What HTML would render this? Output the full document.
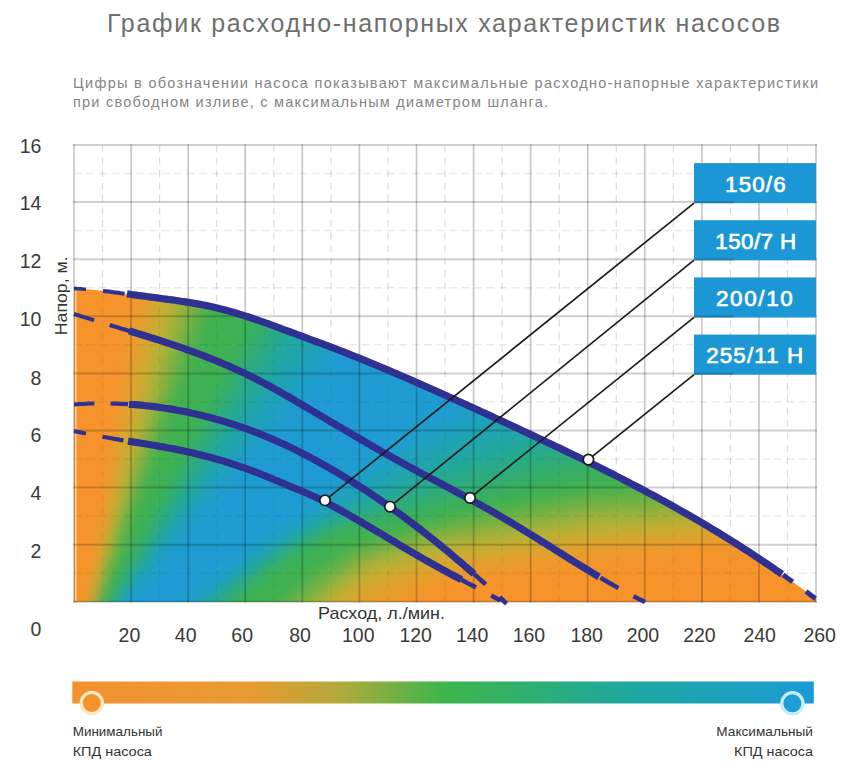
<!DOCTYPE html>
<html><head><meta charset="utf-8"><style>
html,body{margin:0;padding:0;background:#fff;}
body{width:861px;height:768px;overflow:hidden;position:relative;font-family:"Liberation Sans",sans-serif;}
svg{position:absolute;left:0;top:0;}
</style></head><body>
<svg width="861" height="768" viewBox="0 0 861 768" font-family="Liberation Sans, sans-serif">
<defs><clipPath id="fc"><path d="M74 288.4L78.0 288.6L82.0 288.9L86.0 289.2L90.0 289.5L94.0 289.9L98.0 290.3L102.0 290.8L106.0 291.2L110.0 291.7L114.0 292.2L118.0 292.8L122.0 293.3L126.0 293.8L130.0 294.3L134.0 294.9L138.0 295.4L142.0 295.9L146.0 296.4L150.0 297.0L154.0 297.5L158.0 298.0L162.0 298.5L166.0 299.1L170.0 299.6L174.0 300.2L178.0 300.7L182.0 301.3L186.0 301.9L190.0 302.6L194.0 303.3L198.0 304.0L202.0 304.7L206.0 305.5L210.0 306.3L214.0 307.2L218.0 308.2L222.0 309.2L226.0 310.2L230.0 311.3L234.0 312.5L238.0 313.7L242.0 314.9L246.0 316.2L250.0 317.5L254.0 318.9L258.0 320.2L262.0 321.6L266.0 323.0L270.0 324.4L274.0 325.9L278.0 327.4L282.0 328.9L286.0 330.4L290.0 331.9L294.0 333.4L298.0 334.8L302.0 336.3L306.0 337.8L310.0 339.3L314.0 340.7L318.0 342.2L322.0 343.7L326.0 345.2L330.0 346.7L334.0 348.2L338.0 349.8L342.0 351.3L346.0 352.9L350.0 354.5L354.0 356.1L358.0 357.7L362.0 359.3L366.0 360.9L370.0 362.6L374.0 364.2L378.0 365.9L382.0 367.6L386.0 369.3L390.0 371.0L394.0 372.7L398.0 374.4L402.0 376.1L406.0 377.8L410.0 379.6L414.0 381.3L418.0 383.1L422.0 384.8L426.0 386.6L430.0 388.4L434.0 390.1L438.0 391.9L442.0 393.7L446.0 395.5L450.0 397.3L454.0 399.1L458.0 400.9L462.0 402.8L466.0 404.6L470.0 406.4L474.0 408.2L478.0 410.1L482.0 411.9L486.0 413.8L490.0 415.6L494.0 417.4L498.0 419.3L502.0 421.1L506.0 423.0L510.0 424.9L514.0 426.7L518.0 428.6L522.0 430.4L526.0 432.3L530.0 434.2L534.0 436.0L538.0 437.9L542.0 439.8L546.0 441.7L550.0 443.6L554.0 445.5L558.0 447.4L562.0 449.3L566.0 451.2L570.0 453.1L574.0 455.1L578.0 457.0L582.0 458.9L586.0 460.9L590.0 462.9L594.0 464.8L598.0 466.8L602.0 468.8L606.0 470.8L610.0 472.8L614.0 474.9L618.0 476.9L622.0 478.9L626.0 481.0L630.0 483.1L634.0 485.1L638.0 487.2L642.0 489.4L646.0 491.5L650.0 493.6L654.0 495.8L658.0 497.9L662.0 500.1L666.0 502.3L670.0 504.5L674.0 506.8L678.0 509.0L682.0 511.3L686.0 513.5L690.0 515.8L694.0 518.1L698.0 520.5L702.0 522.8L706.0 525.2L710.0 527.6L714.0 530.0L718.0 532.4L722.0 534.9L726.0 537.3L730.0 539.8L734.0 542.3L738.0 544.9L742.0 547.4L746.0 550.0L750.0 552.6L754.0 555.2L758.0 557.9L762.0 560.5L766.0 563.2L770.0 565.9L774.0 568.7L778.0 571.4L782.0 574.2L786.0 577.0L790.0 579.9L794.0 582.8L798.0 585.7L802.0 588.6L806.0 591.5L810.0 594.5L814.0 597.5L816.0 599.0L816 602L74 602Z"/></clipPath><filter id="bl" x="-5%" y="-5%" width="110%" height="110%" color-interpolation-filters="sRGB"><feGaussianBlur stdDeviation="7"/></filter></defs>
<g stroke="#000" stroke-opacity="0.14" stroke-width="1.2" stroke-dasharray="7 5.5" fill="none"><line x1="102.5" y1="145" x2="102.5" y2="602"/><line x1="159.6" y1="145" x2="159.6" y2="602"/><line x1="216.7" y1="145" x2="216.7" y2="602"/><line x1="273.8" y1="145" x2="273.8" y2="602"/><line x1="330.9" y1="145" x2="330.9" y2="602"/><line x1="387.9" y1="145" x2="387.9" y2="602"/><line x1="445.0" y1="145" x2="445.0" y2="602"/><line x1="502.1" y1="145" x2="502.1" y2="602"/><line x1="559.2" y1="145" x2="559.2" y2="602"/><line x1="616.3" y1="145" x2="616.3" y2="602"/><line x1="673.3" y1="145" x2="673.3" y2="602"/><line x1="730.4" y1="145" x2="730.4" y2="602"/><line x1="787.5" y1="145" x2="787.5" y2="602"/></g>
<g stroke="#000" stroke-opacity="0.08" stroke-width="1.5" stroke-dasharray="8 4.5" fill="none"><line x1="74" y1="573.2" x2="816" y2="573.2"/><line x1="74" y1="516.1" x2="816" y2="516.1"/><line x1="74" y1="459.0" x2="816" y2="459.0"/><line x1="74" y1="401.9" x2="816" y2="401.9"/><line x1="74" y1="344.8" x2="816" y2="344.8"/><line x1="74" y1="287.7" x2="816" y2="287.7"/><line x1="74" y1="230.6" x2="816" y2="230.6"/><line x1="74" y1="173.5" x2="816" y2="173.5"/></g>
<g clip-path="url(#fc)"><g filter="url(#bl)" shape-rendering="crispEdges"><path fill="#f6932a" d="M62 276h72v6h-72zM62 282h72v6h-72zM62 288h72v6h-72zM62 294h72v6h-72zM62 300h72v6h-72zM62 306h66v6h-66zM62 312h66v6h-66zM62 318h66v6h-66zM62 324h66v6h-66zM62 330h66v6h-66zM62 336h66v6h-66zM62 342h66v6h-66zM62 348h60v6h-60zM62 354h60v6h-60zM62 360h60v6h-60zM62 366h60v6h-60zM62 372h60v6h-60zM62 378h60v6h-60zM62 384h60v6h-60zM62 390h54v6h-54zM62 396h54v6h-54zM62 402h54v6h-54zM62 408h54v6h-54zM62 414h54v6h-54zM62 420h54v6h-54zM62 426h48v6h-48zM62 432h48v6h-48zM62 438h48v6h-48zM62 444h48v6h-48zM62 450h48v6h-48zM62 456h48v6h-48zM62 462h48v6h-48zM62 468h42v6h-42zM62 474h42v6h-42zM62 480h42v6h-42zM62 486h42v6h-42zM62 492h42v6h-42zM62 498h42v6h-42zM62 504h42v6h-42zM62 510h36v6h-36zM62 516h36v6h-36zM62 522h36v6h-36zM62 528h36v6h-36zM62 534h36v6h-36zM62 540h36v6h-36zM62 546h36v6h-36zM758 546h78v6h-78zM62 552h30v6h-30zM668 552h168v6h-168zM62 558h30v6h-30zM608 558h228v6h-228zM62 564h30v6h-30zM560 564h276v6h-276zM62 570h30v6h-30zM524 570h312v6h-312zM62 576h30v6h-30zM488 576h348v6h-348zM62 582h30v6h-30zM446 582h390v6h-390zM62 588h30v6h-30zM428 588h408v6h-408zM62 594h24v6h-24zM416 594h420v6h-420zM62 600h24v6h-24zM410 600h426v6h-426zM62 606h24v6h-24zM398 606h438v6h-438zM62 612h24v6h-24zM392 612h444v6h-444z"/><path fill="#f3962a" d="M134 276h6v6h-6zM128 306h6v6h-6zM128 312h6v6h-6zM128 318h6v6h-6zM122 348h6v6h-6zM122 354h6v6h-6zM116 390h6v6h-6zM116 396h6v6h-6zM110 432h6v6h-6zM104 474h6v6h-6zM98 516h6v6h-6zM818 540h18v6h-18zM710 546h36v6h-36zM92 552h6v6h-6zM638 552h24v6h-24zM584 558h18v6h-18zM542 564h18v6h-18zM506 570h18v6h-18zM464 576h18v6h-18zM434 582h12v6h-12zM422 588h6v6h-6zM86 594h6v6h-6zM410 594h6v6h-6zM392 606h6v6h-6zM386 612h6v6h-6z"/><path fill="#ed992d" d="M140 276h6v6h-6zM134 300h6v6h-6zM134 306h6v6h-6zM134 312h6v6h-6zM128 342h6v6h-6zM128 348h6v6h-6zM122 378h6v6h-6zM122 384h6v6h-6zM116 414h6v6h-6zM116 420h6v6h-6zM110 450h6v6h-6zM110 456h6v6h-6zM104 492h6v6h-6zM98 528h6v6h-6zM812 534h24v6h-24zM728 540h42v6h-42zM650 546h30v6h-30zM584 552h30v6h-30zM542 558h18v6h-18zM92 564h6v6h-6zM506 564h18v6h-18zM464 570h24v6h-24zM434 576h12v6h-12zM422 582h6v6h-6zM410 588h6v6h-6zM398 594h6v6h-6zM86 600h6v6h-6zM386 600h12v6h-12zM374 606h12v6h-12zM368 612h12v6h-12z"/><path fill="#e79f2d" d="M146 276h6v6h-6zM140 306h6v6h-6zM140 312h6v6h-6zM134 342h6v6h-6zM128 372h6v6h-6zM128 378h6v6h-6zM122 408h6v6h-6zM116 438h6v6h-6zM110 474h6v6h-6zM104 504h6v6h-6zM812 528h24v6h-24zM740 534h24v6h-24zM98 540h6v6h-6zM662 540h24v6h-24zM584 546h18v6h-18zM542 552h12v6h-12zM506 558h12v6h-12zM464 564h12v6h-12zM434 570h6v6h-6zM416 576h6v6h-6zM404 582h6v6h-6zM386 588h6v6h-6zM374 594h6v6h-6zM362 600h6v6h-6zM356 606h6v6h-6zM350 612h6v6h-6z"/><path fill="#dea22d" d="M152 276h6v6h-6zM146 306h6v6h-6zM140 336h6v6h-6zM134 366h6v6h-6zM128 396h6v6h-6zM122 426h6v6h-6zM116 456h6v6h-6zM110 486h6v6h-6zM818 522h18v6h-18zM752 528h12v6h-12zM680 534h18v6h-18zM602 540h18v6h-18zM554 546h6v6h-6zM512 552h12v6h-12zM470 558h12v6h-12zM434 564h6v6h-6zM404 576h6v6h-6zM386 582h6v6h-6zM368 588h6v6h-6z"/><path fill="#d5a830" d="M158 276h6v6h-6zM152 300h6v6h-6zM146 330h6v6h-6zM140 360h6v6h-6zM134 384h6v6h-6zM128 414h6v6h-6zM122 444h6v6h-6zM110 498h6v6h-6zM830 516h6v6h-6zM764 522h18v6h-18zM104 528h6v6h-6zM704 528h12v6h-12zM632 534h18v6h-18zM566 540h6v6h-6zM524 546h12v6h-12zM482 552h12v6h-12zM440 558h12v6h-12zM422 564h6v6h-6zM404 570h6v6h-6zM386 576h6v6h-6zM368 582h6v6h-6zM344 600h6v6h-6zM338 606h6v6h-6zM86 612h6v6h-6zM332 612h6v6h-6z"/><path fill="#c9ae33" d="M164 276h6v6h-6zM158 306h6v6h-6zM152 330h6v6h-6zM146 354h6v6h-6zM140 384h6v6h-6zM134 408h6v6h-6zM128 432h6v6h-6zM116 486h6v6h-6zM824 510h12v6h-12zM764 516h12v6h-12zM704 522h12v6h-12zM650 528h6v6h-6zM572 534h6v6h-6zM530 540h6v6h-6zM488 546h6v6h-6zM440 552h12v6h-12zM98 564h6v6h-6zM398 564h6v6h-6zM380 570h6v6h-6zM362 576h6v6h-6zM326 606h6v6h-6zM320 612h6v6h-6z"/><path fill="#c3b133" d="M170 276h6v6h-6zM164 300h6v6h-6zM158 324h6v6h-6zM152 348h6v6h-6zM146 372h6v6h-6zM140 396h6v6h-6zM134 420h6v6h-6zM128 444h6v6h-6zM794 510h6v6h-6zM734 516h6v6h-6zM680 522h6v6h-6zM608 528h12v6h-12zM554 534h6v6h-6zM506 540h6v6h-6zM464 546h6v6h-6zM428 552h6v6h-6zM386 564h6v6h-6zM356 576h6v6h-6zM350 582h6v6h-6z"/><path fill="#b7b136" d="M176 276h6v6h-6zM158 342h6v6h-6zM152 366h6v6h-6zM146 390h6v6h-6zM116 504h6v6h-6zM806 504h6v6h-6zM746 510h6v6h-6zM686 516h12v6h-12zM620 522h18v6h-18zM110 528h6v6h-6zM560 528h6v6h-6zM518 534h6v6h-6zM476 540h6v6h-6zM434 546h6v6h-6zM392 558h6v6h-6zM368 564h6v6h-6z"/><path fill="#a5b139" d="M182 276h6v6h-6zM170 318h6v6h-6zM164 342h6v6h-6zM152 384h6v6h-6zM122 492h6v6h-6zM812 498h12v6h-12zM752 504h6v6h-6zM692 510h6v6h-6zM620 516h18v6h-18zM560 522h6v6h-6zM518 528h6v6h-6zM482 534h6v6h-6zM440 540h6v6h-6zM398 552h6v6h-6zM374 558h6v6h-6zM344 576h6v6h-6zM92 600h6v6h-6zM308 606h6v6h-6zM302 612h6v6h-6z"/><path fill="#96b13c" d="M188 276h6v6h-6zM182 294h6v6h-6zM170 336h6v6h-6zM158 378h6v6h-6zM140 438h6v6h-6zM128 480h6v6h-6zM830 492h6v6h-6zM764 498h12v6h-12zM704 504h6v6h-6zM638 510h18v6h-18zM566 516h6v6h-6zM530 522h6v6h-6zM404 546h6v6h-6zM338 576h6v6h-6zM98 582h6v6h-6zM302 606h6v6h-6zM296 612h6v6h-6z"/><path fill="#84b142" d="M194 276h6v6h-6zM176 336h6v6h-6zM170 354h6v6h-6zM146 432h6v6h-6zM770 492h12v6h-12zM704 498h6v6h-6zM638 504h12v6h-12zM530 516h6v6h-6zM494 522h6v6h-6zM116 528h6v6h-6zM410 540h6v6h-6zM368 552h6v6h-6zM356 558h6v6h-6zM308 594h6v6h-6z"/><path fill="#75b145" d="M200 276h6v6h-6zM194 294h6v6h-6zM188 312h6v6h-6zM182 330h6v6h-6zM176 348h6v6h-6zM788 486h12v6h-12zM716 492h12v6h-12zM656 498h12v6h-12zM572 504h6v6h-6zM536 510h6v6h-6zM122 516h6v6h-6zM506 516h6v6h-6zM470 522h6v6h-6zM440 528h6v6h-6zM116 534h6v6h-6zM398 540h6v6h-6zM110 552h6v6h-6zM350 558h6v6h-6zM332 570h6v6h-6zM308 588h6v6h-6zM302 594h6v6h-6z"/><path fill="#63b148" d="M206 276h6v6h-6zM200 294h6v6h-6zM194 312h6v6h-6zM188 330h6v6h-6zM182 348h6v6h-6zM176 366h6v6h-6zM800 480h12v6h-12zM722 486h12v6h-12zM656 492h12v6h-12zM536 504h6v6h-6zM506 510h6v6h-6zM476 516h6v6h-6zM446 522h6v6h-6zM422 528h6v6h-6zM404 534h6v6h-6zM116 540h6v6h-6zM362 546h6v6h-6zM110 558h6v6h-6zM332 564h6v6h-6zM314 576h6v6h-6zM308 582h6v6h-6z"/><path fill="#54b14b" d="M212 276h6v6h-6zM206 294h6v6h-6zM182 360h6v6h-6zM176 378h6v6h-6zM152 444h6v6h-6zM824 474h6v6h-6zM740 480h12v6h-12zM668 486h12v6h-12zM572 492h6v6h-6zM542 498h6v6h-6zM122 528h6v6h-6zM410 528h6v6h-6zM392 534h6v6h-6zM344 552h6v6h-6zM308 576h6v6h-6zM92 612h6v6h-6z"/><path fill="#45b14e" d="M218 276h6v6h-6zM212 294h6v6h-6zM200 324h6v6h-6zM194 342h6v6h-6zM182 372h6v6h-6zM176 390h6v6h-6zM164 420h6v6h-6zM158 438h6v6h-6zM806 468h24v6h-24zM734 474h24v6h-24zM674 480h12v6h-12zM140 486h6v6h-6zM584 486h12v6h-12zM554 492h6v6h-6zM524 498h6v6h-6zM122 534h6v6h-6zM326 558h6v6h-6zM308 570h6v6h-6zM104 582h6v6h-6zM272 600h6v6h-6zM266 606h6v6h-6zM260 612h6v6h-6z"/><path fill="#3fb151" d="M224 276h36v6h-36zM224 282h36v6h-36zM218 288h42v6h-42zM218 294h36v6h-36zM218 300h36v6h-36zM212 306h36v6h-36zM212 312h36v6h-36zM206 318h36v6h-36zM206 324h36v6h-36zM206 330h30v6h-30zM200 336h36v6h-36zM200 342h30v6h-30zM200 348h30v6h-30zM194 354h30v6h-30zM194 360h30v6h-30zM188 366h30v6h-30zM188 372h30v6h-30zM188 378h24v6h-24zM182 384h30v6h-30zM182 390h24v6h-24zM176 396h30v6h-30zM176 402h24v6h-24zM176 408h24v6h-24zM170 414h24v6h-24zM170 420h24v6h-24zM170 426h18v6h-18zM164 432h24v6h-24zM830 432h6v6h-6zM164 438h18v6h-18zM794 438h42v6h-42zM158 444h24v6h-24zM764 444h72v6h-72zM158 450h18v6h-18zM734 450h102v6h-102zM158 456h18v6h-18zM698 456h138v6h-138zM152 462h18v6h-18zM668 462h168v6h-168zM152 468h18v6h-18zM638 468h144v6h-144zM146 474h24v6h-24zM608 474h108v6h-108zM146 480h18v6h-18zM578 480h84v6h-84zM146 486h18v6h-18zM548 486h36v6h-36zM140 492h18v6h-18zM518 492h36v6h-36zM140 498h18v6h-18zM494 498h30v6h-30zM140 504h12v6h-12zM464 504h30v6h-30zM134 510h18v6h-18zM434 510h30v6h-30zM134 516h12v6h-12zM416 516h24v6h-24zM128 522h18v6h-18zM386 522h36v6h-36zM128 528h12v6h-12zM356 528h42v6h-42zM128 534h12v6h-12zM332 534h42v6h-42zM122 540h12v6h-12zM326 540h30v6h-30zM122 546h12v6h-12zM314 546h30v6h-30zM122 552h6v6h-6zM308 552h30v6h-30zM116 558h12v6h-12zM296 558h30v6h-30zM116 564h6v6h-6zM284 564h30v6h-30zM110 570h12v6h-12zM278 570h30v6h-30zM110 576h6v6h-6zM266 576h36v6h-36zM110 582h6v6h-6zM260 582h36v6h-36zM104 588h6v6h-6zM254 588h30v6h-30zM104 594h6v6h-6zM248 594h30v6h-30zM98 600h6v6h-6zM242 600h30v6h-30zM98 606h6v6h-6zM236 606h30v6h-30zM230 612h30v6h-30z"/><path fill="#3cb151" d="M260 276h6v6h-6zM206 390h6v6h-6zM200 402h6v6h-6zM194 414h6v6h-6zM188 426h6v6h-6zM818 432h12v6h-12zM182 438h6v6h-6zM788 438h6v6h-6zM758 444h6v6h-6zM176 450h6v6h-6zM728 450h6v6h-6zM170 462h6v6h-6zM488 498h6v6h-6zM458 504h6v6h-6zM350 528h6v6h-6zM320 540h6v6h-6zM302 552h6v6h-6z"/><path fill="#3cb154" d="M266 276h6v6h-6zM260 282h6v6h-6zM260 288h6v6h-6zM254 294h6v6h-6zM254 300h6v6h-6zM248 306h6v6h-6zM248 312h6v6h-6zM242 318h6v6h-6zM242 324h6v6h-6zM236 330h6v6h-6zM236 336h6v6h-6zM230 342h6v6h-6zM230 348h6v6h-6zM224 354h6v6h-6zM224 360h6v6h-6zM218 366h6v6h-6zM218 372h6v6h-6zM212 378h6v6h-6zM212 384h6v6h-6zM206 396h6v6h-6zM200 408h6v6h-6zM194 420h6v6h-6zM830 426h6v6h-6zM188 432h6v6h-6zM800 432h18v6h-18zM770 438h18v6h-18zM182 444h6v6h-6zM740 444h18v6h-18zM716 450h12v6h-12zM176 456h6v6h-6zM686 456h12v6h-12zM656 462h12v6h-12zM170 468h6v6h-6zM626 468h12v6h-12zM602 474h6v6h-6zM164 480h6v6h-6zM572 480h6v6h-6zM542 486h6v6h-6zM158 492h6v6h-6zM512 492h6v6h-6zM152 504h6v6h-6zM146 516h6v6h-6zM374 522h12v6h-12zM140 528h6v6h-6zM338 528h12v6h-12zM326 534h6v6h-6zM134 540h6v6h-6zM308 546h6v6h-6zM128 552h6v6h-6zM290 558h6v6h-6zM122 564h6v6h-6zM278 564h6v6h-6zM272 570h6v6h-6zM116 576h6v6h-6zM254 582h6v6h-6zM110 588h6v6h-6zM248 588h6v6h-6zM242 594h6v6h-6zM104 600h6v6h-6zM236 600h6v6h-6zM230 606h6v6h-6zM98 612h6v6h-6zM224 612h6v6h-6z"/><path fill="#39b15a" d="M272 276h6v6h-6zM266 288h6v6h-6zM260 300h6v6h-6zM254 312h6v6h-6zM824 420h12v6h-12zM800 426h6v6h-6zM770 432h12v6h-12zM740 438h12v6h-12zM716 444h6v6h-6zM182 450h6v6h-6zM686 450h12v6h-12zM662 456h6v6h-6zM176 462h6v6h-6zM632 462h6v6h-6zM608 468h6v6h-6zM170 474h6v6h-6zM584 474h6v6h-6zM554 480h6v6h-6zM164 486h6v6h-6zM524 486h6v6h-6zM500 492h6v6h-6zM470 498h6v6h-6zM440 504h6v6h-6zM422 510h6v6h-6zM398 516h6v6h-6zM362 522h6v6h-6zM230 600h6v6h-6zM224 606h6v6h-6zM218 612h6v6h-6z"/><path fill="#36ae63" d="M278 276h6v6h-6zM272 288h6v6h-6zM266 300h6v6h-6zM260 312h6v6h-6zM230 366h6v6h-6zM224 378h6v6h-6zM218 390h6v6h-6zM212 402h6v6h-6zM812 414h12v6h-12zM782 420h12v6h-12zM758 426h12v6h-12zM728 432h12v6h-12zM704 438h12v6h-12zM680 444h6v6h-6zM650 450h12v6h-12zM626 456h12v6h-12zM602 462h12v6h-12zM176 468h6v6h-6zM578 468h6v6h-6zM554 474h6v6h-6zM170 480h6v6h-6zM524 480h12v6h-12zM500 486h6v6h-6zM470 492h12v6h-12zM446 498h6v6h-6zM428 504h6v6h-6zM410 510h6v6h-6zM380 516h6v6h-6zM128 558h6v6h-6zM122 570h6v6h-6zM248 582h6v6h-6z"/><path fill="#33ae69" d="M284 276h6v6h-6zM830 402h6v6h-6zM728 426h6v6h-6zM530 474h6v6h-6zM146 528h6v6h-6z"/><path fill="#33ae72" d="M290 276h6v6h-6zM272 306h6v6h-6zM266 318h6v6h-6zM242 360h6v6h-6zM236 372h6v6h-6zM818 396h12v6h-12zM794 402h12v6h-12zM770 408h12v6h-12zM212 414h6v6h-6zM746 414h12v6h-12zM722 420h6v6h-6zM698 426h6v6h-6zM674 432h6v6h-6zM650 438h6v6h-6zM626 444h6v6h-6zM602 450h6v6h-6zM188 456h6v6h-6zM584 456h6v6h-6zM560 462h6v6h-6zM536 468h6v6h-6zM512 474h6v6h-6zM488 480h6v6h-6zM422 498h6v6h-6zM404 504h6v6h-6zM158 510h6v6h-6zM380 510h6v6h-6zM314 534h6v6h-6zM236 588h6v6h-6zM104 606h6v6h-6z"/><path fill="#30ab7b" d="M296 276h6v6h-6zM272 318h6v6h-6zM830 384h6v6h-6zM230 390h6v6h-6zM806 390h6v6h-6zM782 396h6v6h-6zM716 414h6v6h-6zM692 420h6v6h-6zM668 426h6v6h-6zM206 432h6v6h-6zM644 432h6v6h-6zM620 438h6v6h-6zM578 450h6v6h-6zM512 468h6v6h-6zM488 474h6v6h-6zM464 480h6v6h-6zM440 486h6v6h-6zM410 498h6v6h-6zM164 504h6v6h-6zM350 516h6v6h-6zM290 546h6v6h-6zM248 576h6v6h-6zM212 606h6v6h-6z"/><path fill="#2dab81" d="M302 276h6v6h-6zM290 294h6v6h-6zM284 306h6v6h-6zM266 336h6v6h-6zM248 366h6v6h-6zM824 378h12v6h-12zM800 384h12v6h-12zM776 390h12v6h-12zM230 396h6v6h-6zM752 396h12v6h-12zM734 402h6v6h-6zM224 408h6v6h-6zM710 408h12v6h-12zM686 414h12v6h-12zM662 420h12v6h-12zM212 426h6v6h-6zM644 426h6v6h-6zM620 432h12v6h-12zM206 438h6v6h-6zM602 438h6v6h-6zM578 444h12v6h-12zM560 450h6v6h-6zM536 456h6v6h-6zM518 462h6v6h-6zM188 468h6v6h-6zM494 468h6v6h-6zM470 474h6v6h-6zM446 480h6v6h-6zM428 486h6v6h-6zM416 492h6v6h-6zM170 498h6v6h-6zM398 498h6v6h-6zM344 516h6v6h-6zM152 528h6v6h-6zM308 534h6v6h-6zM278 552h6v6h-6zM134 558h6v6h-6zM224 594h6v6h-6z"/><path fill="#2aab8a" d="M308 276h6v6h-6zM302 288h6v6h-6zM290 306h6v6h-6zM284 318h6v6h-6zM272 336h6v6h-6zM254 366h6v6h-6zM830 366h6v6h-6zM806 372h12v6h-12zM788 378h12v6h-12zM242 384h6v6h-6zM764 384h12v6h-12zM746 390h6v6h-6zM236 396h6v6h-6zM722 396h12v6h-12zM698 402h12v6h-12zM680 408h6v6h-6zM224 414h6v6h-6zM656 414h12v6h-12zM638 420h6v6h-6zM614 426h12v6h-12zM596 432h6v6h-6zM578 438h6v6h-6zM206 444h6v6h-6zM554 444h6v6h-6zM536 450h6v6h-6zM518 456h6v6h-6zM494 462h6v6h-6zM470 468h12v6h-12zM452 474h6v6h-6zM176 492h6v6h-6zM404 492h6v6h-6zM374 504h6v6h-6zM356 510h6v6h-6zM158 522h6v6h-6zM326 522h6v6h-6zM314 528h6v6h-6zM284 546h6v6h-6zM266 558h6v6h-6zM110 600h6v6h-6zM212 600h6v6h-6z"/><path fill="#27a890" d="M314 276h6v6h-6zM302 294h6v6h-6zM296 306h6v6h-6zM284 324h6v6h-6zM272 342h6v6h-6zM824 360h12v6h-12zM806 366h12v6h-12zM254 372h6v6h-6zM782 372h12v6h-12zM764 378h12v6h-12zM740 384h12v6h-12zM242 390h6v6h-6zM722 390h12v6h-12zM698 396h12v6h-12zM680 402h12v6h-12zM662 408h6v6h-6zM638 414h12v6h-12zM224 420h6v6h-6zM620 420h6v6h-6zM596 426h12v6h-12zM578 432h12v6h-12zM212 438h6v6h-6zM560 438h6v6h-6zM542 444h6v6h-6zM518 450h12v6h-12zM500 456h6v6h-6zM482 462h6v6h-6zM194 468h6v6h-6zM458 468h6v6h-6zM440 474h6v6h-6zM182 486h6v6h-6zM410 486h6v6h-6zM398 492h6v6h-6zM368 504h6v6h-6zM152 534h6v6h-6zM122 582h6v6h-6z"/><path fill="#24a896" d="M320 276h6v6h-6zM314 282h6v6h-6zM308 294h6v6h-6zM296 312h6v6h-6zM284 330h6v6h-6zM272 348h6v6h-6zM824 354h12v6h-12zM266 360h6v6h-6zM806 360h6v6h-6zM782 366h12v6h-12zM764 372h12v6h-12zM254 378h6v6h-6zM740 378h12v6h-12zM722 384h12v6h-12zM704 390h6v6h-6zM242 396h6v6h-6zM680 396h12v6h-12zM662 402h6v6h-6zM638 408h12v6h-12zM230 414h6v6h-6zM620 414h12v6h-12zM602 420h6v6h-6zM584 426h6v6h-6zM566 432h6v6h-6zM548 438h6v6h-6zM212 444h6v6h-6zM524 444h12v6h-12zM506 450h6v6h-6zM488 456h6v6h-6zM200 462h6v6h-6zM470 462h6v6h-6zM446 468h6v6h-6zM188 480h6v6h-6zM416 480h6v6h-6zM404 486h6v6h-6zM392 492h6v6h-6zM362 504h6v6h-6zM320 522h6v6h-6zM158 528h6v6h-6zM146 546h6v6h-6zM230 582h6v6h-6zM206 600h6v6h-6zM104 612h6v6h-6z"/><path fill="#21a89f" d="M326 276h6v6h-6zM314 294h6v6h-6zM302 312h6v6h-6zM296 324h6v6h-6zM290 330h6v6h-6zM284 342h6v6h-6zM830 342h6v6h-6zM278 348h6v6h-6zM806 348h18v6h-18zM788 354h12v6h-12zM272 360h6v6h-6zM770 360h12v6h-12zM752 366h12v6h-12zM728 372h12v6h-12zM260 378h6v6h-6zM710 378h12v6h-12zM692 384h12v6h-12zM674 390h12v6h-12zM248 396h6v6h-6zM650 396h12v6h-12zM632 402h12v6h-12zM614 408h12v6h-12zM236 414h6v6h-6zM596 414h12v6h-12zM578 420h12v6h-12zM560 426h6v6h-6zM224 432h6v6h-6zM542 432h6v6h-6zM524 438h6v6h-6zM506 444h6v6h-6zM212 450h6v6h-6zM488 450h6v6h-6zM470 456h6v6h-6zM446 462h6v6h-6zM200 468h6v6h-6zM188 486h6v6h-6zM176 504h6v6h-6zM356 504h6v6h-6zM164 522h6v6h-6zM152 540h6v6h-6zM260 558h6v6h-6zM218 588h6v6h-6z"/><path fill="#21a5a2" d="M332 276h6v6h-6zM320 294h6v6h-6zM818 336h12v6h-12zM800 342h12v6h-12zM782 348h12v6h-12zM764 354h6v6h-6zM746 360h6v6h-6zM728 366h6v6h-6zM704 372h12v6h-12zM686 378h12v6h-12zM668 384h12v6h-12zM650 390h12v6h-12zM632 396h6v6h-6zM614 402h6v6h-6zM242 408h6v6h-6zM596 408h6v6h-6zM578 414h12v6h-12zM566 420h6v6h-6zM230 426h6v6h-6zM548 426h6v6h-6zM530 432h6v6h-6zM512 438h6v6h-6zM218 444h6v6h-6zM494 444h6v6h-6zM476 450h6v6h-6zM458 456h6v6h-6zM206 462h6v6h-6zM194 480h6v6h-6zM182 498h6v6h-6zM338 510h6v6h-6zM170 516h6v6h-6zM326 516h6v6h-6zM158 534h6v6h-6zM266 552h6v6h-6zM188 612h6v6h-6z"/><path fill="#21a5a8" d="M338 276h6v6h-6zM332 288h6v6h-6zM326 294h6v6h-6zM314 312h6v6h-6zM308 318h6v6h-6zM818 318h18v6h-18zM800 324h24v6h-24zM302 330h6v6h-6zM782 330h24v6h-24zM296 336h6v6h-6zM770 336h24v6h-24zM752 342h24v6h-24zM290 348h6v6h-6zM734 348h24v6h-24zM284 354h6v6h-6zM716 354h24v6h-24zM698 360h24v6h-24zM278 366h6v6h-6zM686 366h18v6h-18zM272 372h6v6h-6zM668 372h18v6h-18zM650 378h18v6h-18zM632 384h18v6h-18zM260 390h6v6h-6zM614 390h18v6h-18zM602 396h12v6h-12zM584 402h18v6h-18zM248 408h6v6h-6zM572 408h12v6h-12zM242 414h6v6h-6zM554 414h12v6h-12zM536 420h12v6h-12zM236 426h6v6h-6zM524 426h12v6h-12zM230 432h6v6h-6zM506 432h12v6h-12zM488 438h12v6h-12zM470 444h12v6h-12zM218 450h6v6h-6zM452 450h12v6h-12zM440 456h6v6h-6zM428 462h6v6h-6zM206 468h6v6h-6zM416 468h6v6h-6zM404 474h6v6h-6zM392 480h6v6h-6zM194 486h6v6h-6zM380 486h6v6h-6zM368 492h6v6h-6zM356 498h6v6h-6zM344 504h6v6h-6zM176 510h6v6h-6zM332 510h6v6h-6zM320 516h6v6h-6zM308 522h6v6h-6zM164 528h6v6h-6zM290 534h6v6h-6zM152 546h6v6h-6zM272 546h6v6h-6zM254 558h6v6h-6zM230 576h6v6h-6zM206 594h6v6h-6zM110 606h6v6h-6z"/><path fill="#21a5ab" d="M344 276h6v6h-6zM338 282h6v6h-6zM332 294h6v6h-6zM326 300h6v6h-6zM320 306h6v6h-6zM824 306h12v6h-12zM812 312h24v6h-24zM314 318h6v6h-6zM794 318h24v6h-24zM308 324h6v6h-6zM776 324h24v6h-24zM764 330h18v6h-18zM302 336h6v6h-6zM746 336h24v6h-24zM296 342h6v6h-6zM728 342h24v6h-24zM716 348h18v6h-18zM290 354h6v6h-6zM698 354h18v6h-18zM284 360h6v6h-6zM680 360h18v6h-18zM668 366h18v6h-18zM650 372h18v6h-18zM272 378h6v6h-6zM632 378h18v6h-18zM266 384h6v6h-6zM620 384h12v6h-12zM602 390h12v6h-12zM260 396h6v6h-6zM590 396h12v6h-12zM254 402h6v6h-6zM572 402h12v6h-12zM554 408h18v6h-18zM542 414h12v6h-12zM242 420h6v6h-6zM524 420h12v6h-12zM512 426h12v6h-12zM494 432h12v6h-12zM230 438h6v6h-6zM476 438h12v6h-12zM224 444h6v6h-6zM458 444h12v6h-12zM446 450h6v6h-6zM434 456h6v6h-6zM212 462h6v6h-6zM422 462h6v6h-6zM410 468h6v6h-6zM398 474h6v6h-6zM200 480h6v6h-6zM386 480h6v6h-6zM374 486h6v6h-6zM362 492h6v6h-6zM182 504h6v6h-6zM170 522h6v6h-6zM278 540h6v6h-6zM140 564h6v6h-6zM128 582h6v6h-6z"/><path fill="#21a5b1" d="M350 276h6v6h-6zM812 300h6v6h-6zM782 312h6v6h-6zM320 318h6v6h-6zM752 324h6v6h-6zM722 336h6v6h-6zM674 354h6v6h-6zM644 366h6v6h-6zM614 378h6v6h-6zM272 384h6v6h-6zM512 420h6v6h-6zM464 438h6v6h-6zM194 492h6v6h-6zM116 600h6v6h-6z"/><path fill="#1ea2b4" d="M356 276h6v6h-6zM830 276h6v6h-6zM818 282h18v6h-18zM350 288h6v6h-6zM806 288h18v6h-18zM344 294h6v6h-6zM788 294h18v6h-18zM338 300h6v6h-6zM776 300h18v6h-18zM758 306h18v6h-18zM332 312h6v6h-6zM746 312h18v6h-18zM326 318h6v6h-6zM734 318h18v6h-18zM320 324h6v6h-6zM716 324h18v6h-18zM704 330h18v6h-18zM314 336h6v6h-6zM692 336h12v6h-12zM308 342h6v6h-6zM674 342h18v6h-18zM302 348h6v6h-6zM662 348h12v6h-12zM650 354h12v6h-12zM296 360h6v6h-6zM632 360h12v6h-12zM290 366h6v6h-6zM620 366h12v6h-12zM608 372h12v6h-12zM590 378h12v6h-12zM278 384h6v6h-6zM578 384h12v6h-12zM272 390h6v6h-6zM566 390h12v6h-12zM554 396h6v6h-6zM536 402h12v6h-12zM260 408h6v6h-6zM524 408h12v6h-12zM254 414h6v6h-6zM512 414h6v6h-6zM494 420h12v6h-12zM482 426h6v6h-6zM242 432h6v6h-6zM464 432h6v6h-6zM236 438h6v6h-6zM452 438h6v6h-6zM434 444h6v6h-6zM422 450h6v6h-6zM224 456h6v6h-6zM404 462h6v6h-6zM392 468h6v6h-6zM206 480h6v6h-6zM374 480h6v6h-6zM362 486h6v6h-6zM350 492h6v6h-6zM188 504h6v6h-6zM320 510h6v6h-6zM170 528h6v6h-6zM152 552h6v6h-6zM248 558h6v6h-6z"/><path fill="#1ea2b7" d="M362 276h6v6h-6zM812 276h18v6h-18zM356 282h6v6h-6zM794 282h24v6h-24zM782 288h24v6h-24zM350 294h6v6h-6zM770 294h18v6h-18zM344 300h6v6h-6zM758 300h18v6h-18zM338 306h6v6h-6zM740 306h18v6h-18zM728 312h18v6h-18zM716 318h18v6h-18zM326 324h6v6h-6zM704 324h12v6h-12zM320 330h6v6h-6zM686 330h18v6h-18zM674 336h18v6h-18zM662 342h12v6h-12zM308 348h6v6h-6zM650 348h12v6h-12zM302 354h6v6h-6zM632 354h18v6h-18zM620 360h12v6h-12zM608 366h12v6h-12zM290 372h6v6h-6zM596 372h12v6h-12zM284 378h6v6h-6zM578 378h12v6h-12zM566 384h12v6h-12zM554 390h12v6h-12zM272 396h6v6h-6zM542 396h12v6h-12zM266 402h6v6h-6zM530 402h6v6h-6zM512 408h12v6h-12zM500 414h12v6h-12zM254 420h6v6h-6zM482 420h12v6h-12zM248 426h6v6h-6zM470 426h12v6h-12zM458 432h6v6h-6zM440 438h12v6h-12zM236 444h6v6h-6zM428 444h6v6h-6zM230 450h6v6h-6zM416 450h6v6h-6zM410 456h6v6h-6zM398 462h6v6h-6zM218 468h6v6h-6zM212 474h6v6h-6zM380 474h6v6h-6zM368 480h6v6h-6zM194 498h6v6h-6zM338 498h6v6h-6zM308 516h6v6h-6zM176 522h6v6h-6zM290 528h6v6h-6zM272 540h6v6h-6zM158 546h6v6h-6zM254 552h6v6h-6zM140 570h6v6h-6zM224 576h6v6h-6zM122 594h6v6h-6zM188 606h6v6h-6zM182 612h6v6h-6z"/><path fill="#1ea2ba" d="M368 276h6v6h-6zM788 276h24v6h-24zM362 282h6v6h-6zM776 282h18v6h-18zM356 288h6v6h-6zM764 288h18v6h-18zM752 294h18v6h-18zM740 300h18v6h-18zM344 306h6v6h-6zM728 306h12v6h-12zM338 312h6v6h-6zM710 312h18v6h-18zM332 318h6v6h-6zM698 318h18v6h-18zM686 324h18v6h-18zM326 330h6v6h-6zM674 330h12v6h-12zM320 336h6v6h-6zM662 336h12v6h-12zM314 342h6v6h-6zM644 342h18v6h-18zM632 348h18v6h-18zM308 354h6v6h-6zM620 354h12v6h-12zM302 360h6v6h-6zM608 360h12v6h-12zM296 366h6v6h-6zM596 366h12v6h-12zM584 372h12v6h-12zM572 378h6v6h-6zM284 384h6v6h-6zM554 384h12v6h-12zM278 390h6v6h-6zM542 390h12v6h-12zM530 396h12v6h-12zM518 402h12v6h-12zM266 408h6v6h-6zM506 408h6v6h-6zM260 414h6v6h-6zM488 414h12v6h-12zM476 420h6v6h-6zM464 426h6v6h-6zM248 432h6v6h-6zM446 432h12v6h-12zM242 438h6v6h-6zM434 438h6v6h-6zM422 444h6v6h-6zM404 456h6v6h-6zM224 462h6v6h-6zM392 462h6v6h-6zM386 468h6v6h-6zM374 474h6v6h-6zM206 486h6v6h-6zM356 486h6v6h-6zM200 492h6v6h-6zM344 492h6v6h-6zM326 504h6v6h-6zM314 510h6v6h-6zM182 516h6v6h-6zM164 540h6v6h-6zM260 546h6v6h-6zM146 564h6v6h-6zM230 570h6v6h-6zM200 594h6v6h-6zM194 600h6v6h-6z"/><path fill="#1e9fc0" d="M374 276h6v6h-6zM758 276h12v6h-12zM746 282h12v6h-12zM368 288h6v6h-6zM734 288h12v6h-12zM362 294h6v6h-6zM722 294h12v6h-12zM356 300h6v6h-6zM704 300h18v6h-18zM350 306h6v6h-6zM692 306h18v6h-18zM680 312h18v6h-18zM344 318h6v6h-6zM668 318h18v6h-18zM338 324h6v6h-6zM656 324h18v6h-18zM332 330h6v6h-6zM644 330h12v6h-12zM632 336h12v6h-12zM620 342h12v6h-12zM320 348h6v6h-6zM608 348h12v6h-12zM314 354h6v6h-6zM596 354h12v6h-12zM308 360h6v6h-6zM584 360h12v6h-12zM572 366h12v6h-12zM560 372h12v6h-12zM296 378h6v6h-6zM548 378h12v6h-12zM290 384h6v6h-6zM536 384h12v6h-12zM284 390h6v6h-6zM524 390h12v6h-12zM512 396h12v6h-12zM500 402h6v6h-6zM272 408h6v6h-6zM488 408h6v6h-6zM266 414h6v6h-6zM470 414h12v6h-12zM458 420h12v6h-12zM446 426h6v6h-6zM434 432h6v6h-6zM248 438h6v6h-6zM422 438h6v6h-6zM242 444h6v6h-6zM404 450h6v6h-6zM386 462h6v6h-6zM224 468h6v6h-6zM368 474h6v6h-6zM356 480h6v6h-6zM338 492h6v6h-6zM200 498h6v6h-6zM320 504h6v6h-6zM302 516h6v6h-6zM182 522h6v6h-6zM176 528h6v6h-6zM266 540h6v6h-6zM158 552h6v6h-6zM248 552h6v6h-6zM242 558h6v6h-6zM134 582h6v6h-6zM212 582h6v6h-6zM110 612h6v6h-6z"/><path fill="#1e9fc3" d="M380 276h6v6h-6zM740 276h18v6h-18zM374 282h6v6h-6zM728 282h18v6h-18zM716 288h18v6h-18zM368 294h6v6h-6zM704 294h18v6h-18zM362 300h6v6h-6zM692 300h12v6h-12zM356 306h6v6h-6zM680 306h12v6h-12zM350 312h6v6h-6zM668 312h12v6h-12zM656 318h12v6h-12zM644 324h12v6h-12zM338 330h6v6h-6zM632 330h12v6h-12zM332 336h6v6h-6zM620 336h12v6h-12zM326 342h6v6h-6zM608 342h12v6h-12zM596 348h12v6h-12zM584 354h12v6h-12zM314 360h6v6h-6zM572 360h12v6h-12zM308 366h6v6h-6zM566 366h6v6h-6zM302 372h6v6h-6zM554 372h6v6h-6zM542 378h6v6h-6zM530 384h6v6h-6zM290 390h6v6h-6zM518 390h6v6h-6zM284 396h6v6h-6zM506 396h6v6h-6zM278 402h6v6h-6zM488 402h12v6h-12zM476 408h12v6h-12zM464 414h6v6h-6zM266 420h6v6h-6zM452 420h6v6h-6zM260 426h6v6h-6zM440 426h6v6h-6zM254 432h6v6h-6zM428 432h6v6h-6zM416 438h6v6h-6zM410 444h6v6h-6zM242 450h6v6h-6zM398 450h6v6h-6zM236 456h6v6h-6zM392 456h6v6h-6zM230 462h6v6h-6zM380 462h6v6h-6zM374 468h6v6h-6zM362 474h6v6h-6zM212 486h6v6h-6zM344 486h6v6h-6zM206 492h6v6h-6zM326 498h6v6h-6zM308 510h6v6h-6zM188 516h6v6h-6zM284 528h6v6h-6zM164 546h6v6h-6zM254 546h6v6h-6zM140 576h6v6h-6zM218 576h6v6h-6z"/><path fill="#1e9fc6" d="M386 276h6v6h-6zM728 276h12v6h-12zM380 282h6v6h-6zM716 282h12v6h-12zM374 288h6v6h-6zM704 288h12v6h-12zM692 294h12v6h-12zM368 300h6v6h-6zM680 300h12v6h-12zM362 306h6v6h-6zM668 306h12v6h-12zM356 312h6v6h-6zM656 312h12v6h-12zM350 318h6v6h-6zM644 318h12v6h-12zM344 324h6v6h-6zM632 324h12v6h-12zM620 330h12v6h-12zM338 336h6v6h-6zM608 336h12v6h-12zM332 342h6v6h-6zM602 342h6v6h-6zM326 348h6v6h-6zM590 348h6v6h-6zM320 354h6v6h-6zM578 354h6v6h-6zM566 360h6v6h-6zM554 366h12v6h-12zM308 372h6v6h-6zM542 372h12v6h-12zM302 378h6v6h-6zM530 378h12v6h-12zM296 384h6v6h-6zM518 384h12v6h-12zM506 390h12v6h-12zM494 396h12v6h-12zM284 402h6v6h-6zM482 402h6v6h-6zM278 408h6v6h-6zM470 408h6v6h-6zM272 414h6v6h-6zM458 414h6v6h-6zM446 420h6v6h-6zM434 426h6v6h-6zM422 432h6v6h-6zM254 438h6v6h-6zM410 438h6v6h-6zM248 444h6v6h-6zM404 444h6v6h-6zM386 456h6v6h-6zM368 468h6v6h-6zM224 474h6v6h-6zM218 480h6v6h-6zM350 480h6v6h-6zM332 492h6v6h-6zM200 504h6v6h-6zM194 510h6v6h-6zM290 522h6v6h-6zM272 534h6v6h-6zM170 540h6v6h-6zM146 570h6v6h-6zM224 570h6v6h-6zM116 606h6v6h-6z"/><path fill="#1e9fc9" d="M392 276h6v6h-6zM710 276h18v6h-18zM386 282h6v6h-6zM698 282h18v6h-18zM380 288h6v6h-6zM692 288h12v6h-12zM374 294h6v6h-6zM680 294h12v6h-12zM668 300h12v6h-12zM656 306h12v6h-12zM362 312h6v6h-6zM644 312h12v6h-12zM356 318h6v6h-6zM632 318h12v6h-12zM350 324h6v6h-6zM620 324h12v6h-12zM344 330h6v6h-6zM614 330h6v6h-6zM602 336h6v6h-6zM590 342h12v6h-12zM332 348h6v6h-6zM578 348h12v6h-12zM326 354h6v6h-6zM566 354h12v6h-12zM320 360h6v6h-6zM554 360h12v6h-12zM314 366h6v6h-6zM548 366h6v6h-6zM536 372h6v6h-6zM524 378h6v6h-6zM302 384h6v6h-6zM512 384h6v6h-6zM296 390h6v6h-6zM500 390h6v6h-6zM290 396h6v6h-6zM488 396h6v6h-6zM476 402h6v6h-6zM464 408h6v6h-6zM452 414h6v6h-6zM272 420h6v6h-6zM440 420h6v6h-6zM266 426h6v6h-6zM428 426h6v6h-6zM260 432h6v6h-6zM416 432h6v6h-6zM398 444h6v6h-6zM392 450h6v6h-6zM242 456h6v6h-6zM236 462h6v6h-6zM374 462h6v6h-6zM230 468h6v6h-6zM356 474h6v6h-6zM338 486h6v6h-6zM212 492h6v6h-6zM206 498h6v6h-6zM314 504h6v6h-6zM182 528h6v6h-6zM176 534h6v6h-6zM260 540h6v6h-6zM152 564h6v6h-6zM230 564h6v6h-6zM122 600h6v6h-6z"/><path fill="#1e9ccf" d="M398 276h6v6h-6zM686 276h12v6h-12zM674 282h12v6h-12zM392 288h6v6h-6zM662 288h12v6h-12zM386 294h6v6h-6zM656 294h12v6h-12zM380 300h6v6h-6zM644 300h12v6h-12zM374 306h6v6h-6zM632 306h12v6h-12zM368 312h6v6h-6zM626 312h6v6h-6zM614 318h6v6h-6zM602 324h12v6h-12zM356 330h6v6h-6zM590 330h12v6h-12zM350 336h6v6h-6zM584 336h6v6h-6zM344 342h6v6h-6zM572 342h6v6h-6zM338 348h6v6h-6zM560 348h12v6h-12zM332 354h6v6h-6zM548 354h12v6h-12zM542 360h6v6h-6zM530 366h6v6h-6zM320 372h6v6h-6zM518 372h6v6h-6zM314 378h6v6h-6zM506 378h6v6h-6zM308 384h6v6h-6zM494 384h6v6h-6zM302 390h6v6h-6zM482 390h6v6h-6zM296 396h6v6h-6zM470 396h6v6h-6zM458 402h12v6h-12zM452 408h6v6h-6zM440 414h6v6h-6zM278 420h6v6h-6zM428 420h6v6h-6zM272 426h6v6h-6zM416 426h6v6h-6zM266 432h6v6h-6zM398 438h6v6h-6zM392 444h6v6h-6zM374 456h6v6h-6zM242 462h6v6h-6zM368 462h6v6h-6zM236 468h6v6h-6zM230 474h6v6h-6zM350 474h6v6h-6zM326 492h6v6h-6zM206 504h6v6h-6zM200 510h6v6h-6zM302 510h6v6h-6zM266 534h6v6h-6zM170 546h6v6h-6zM248 546h6v6h-6zM164 552h6v6h-6zM200 588h6v6h-6zM128 594h6v6h-6zM194 594h6v6h-6z"/><path fill="#1e9cd2" d="M404 276h282v6h-282zM398 282h276v6h-276zM398 288h264v6h-264zM392 294h264v6h-264zM386 300h258v6h-258zM380 306h252v6h-252zM374 312h252v6h-252zM368 318h246v6h-246zM362 324h240v6h-240zM362 330h228v6h-228zM356 336h228v6h-228zM350 342h222v6h-222zM344 348h216v6h-216zM338 354h210v6h-210zM332 360h210v6h-210zM326 366h204v6h-204zM326 372h192v6h-192zM320 378h186v6h-186zM314 384h180v6h-180zM308 390h174v6h-174zM302 396h168v6h-168zM296 402h162v6h-162zM290 408h162v6h-162zM284 414h156v6h-156zM284 420h144v6h-144zM278 426h138v6h-138zM272 432h138v6h-138zM266 438h132v6h-132zM260 444h132v6h-132zM254 450h132v6h-132zM248 456h126v6h-126zM248 462h120v6h-120zM242 468h120v6h-120zM236 474h114v6h-114zM230 480h114v6h-114zM224 486h114v6h-114zM218 492h108v6h-108zM212 498h108v6h-108zM212 504h102v6h-102zM206 510h96v6h-96zM200 516h96v6h-96zM194 522h96v6h-96zM188 528h90v6h-90zM182 534h84v6h-84zM176 540h84v6h-84zM176 546h72v6h-72zM170 552h72v6h-72zM164 558h72v6h-72zM158 564h72v6h-72zM152 570h72v6h-72zM146 576h72v6h-72zM140 582h72v6h-72zM134 588h66v6h-66zM134 594h60v6h-60zM128 600h60v6h-60zM122 606h60v6h-60zM116 612h60v6h-60z"/><path fill="#1e9ccc" d="M698 276h12v6h-12zM392 282h6v6h-6zM686 282h12v6h-12zM386 288h6v6h-6zM674 288h12v6h-12zM380 294h6v6h-6zM668 294h6v6h-6zM374 300h6v6h-6zM656 300h6v6h-6zM644 306h12v6h-12zM632 312h12v6h-12zM362 318h6v6h-6zM620 318h12v6h-12zM356 324h6v6h-6zM614 324h6v6h-6zM350 330h6v6h-6zM602 330h6v6h-6zM344 336h6v6h-6zM590 336h6v6h-6zM578 342h12v6h-12zM572 348h6v6h-6zM560 354h6v6h-6zM326 360h6v6h-6zM548 360h6v6h-6zM320 366h6v6h-6zM536 366h6v6h-6zM314 372h6v6h-6zM524 372h6v6h-6zM512 378h12v6h-12zM500 384h12v6h-12zM488 390h12v6h-12zM476 396h6v6h-6zM290 402h6v6h-6zM284 408h6v6h-6zM434 420h6v6h-6zM422 426h6v6h-6zM410 432h6v6h-6zM260 438h6v6h-6zM404 438h6v6h-6zM254 444h6v6h-6zM386 450h6v6h-6zM362 468h6v6h-6zM224 480h6v6h-6zM344 480h6v6h-6zM218 486h6v6h-6zM320 498h6v6h-6zM194 516h6v6h-6zM188 522h6v6h-6zM278 528h6v6h-6zM242 552h6v6h-6zM158 558h6v6h-6zM236 558h6v6h-6zM188 600h6v6h-6zM182 606h6v6h-6zM176 612h6v6h-6z"/><path fill="#1e9fbd" d="M770 276h6v6h-6zM368 282h6v6h-6zM758 282h6v6h-6zM746 288h6v6h-6zM734 294h6v6h-6zM722 300h6v6h-6zM710 306h6v6h-6zM344 312h6v6h-6zM698 312h6v6h-6zM656 330h6v6h-6zM326 336h6v6h-6zM644 336h6v6h-6zM632 342h6v6h-6zM620 348h6v6h-6zM608 354h6v6h-6zM596 360h6v6h-6zM302 366h6v6h-6zM584 366h6v6h-6zM506 402h6v6h-6zM494 408h6v6h-6zM260 420h6v6h-6zM452 426h6v6h-6zM416 444h6v6h-6zM236 450h6v6h-6zM218 474h6v6h-6zM350 486h6v6h-6zM194 504h6v6h-6zM152 558h6v6h-6z"/><path fill="#1ea2bd" d="M776 276h12v6h-12zM764 282h12v6h-12zM362 288h6v6h-6zM752 288h12v6h-12zM356 294h6v6h-6zM740 294h12v6h-12zM350 300h6v6h-6zM728 300h12v6h-12zM716 306h12v6h-12zM704 312h6v6h-6zM338 318h6v6h-6zM686 318h12v6h-12zM332 324h6v6h-6zM674 324h12v6h-12zM662 330h12v6h-12zM650 336h12v6h-12zM320 342h6v6h-6zM638 342h6v6h-6zM314 348h6v6h-6zM626 348h6v6h-6zM614 354h6v6h-6zM602 360h6v6h-6zM590 366h6v6h-6zM296 372h6v6h-6zM572 372h12v6h-12zM290 378h6v6h-6zM560 378h12v6h-12zM548 384h6v6h-6zM536 390h6v6h-6zM278 396h6v6h-6zM524 396h6v6h-6zM272 402h6v6h-6zM512 402h6v6h-6zM500 408h6v6h-6zM482 414h6v6h-6zM470 420h6v6h-6zM254 426h6v6h-6zM458 426h6v6h-6zM440 432h6v6h-6zM428 438h6v6h-6zM410 450h6v6h-6zM230 456h6v6h-6zM398 456h6v6h-6zM380 468h6v6h-6zM212 480h6v6h-6zM362 480h6v6h-6zM332 498h6v6h-6zM188 510h6v6h-6zM296 522h6v6h-6zM170 534h6v6h-6zM278 534h6v6h-6zM236 564h6v6h-6zM128 588h6v6h-6zM206 588h6v6h-6z"/><path fill="#f0962d" d="M134 282h6v6h-6zM134 288h6v6h-6zM128 324h6v6h-6zM122 360h6v6h-6zM122 366h6v6h-6zM116 402h6v6h-6zM110 438h6v6h-6zM110 444h6v6h-6zM104 480h6v6h-6zM788 540h30v6h-30zM698 546h12v6h-12zM626 552h12v6h-12zM92 558h6v6h-6zM572 558h12v6h-12zM530 564h12v6h-12zM494 570h12v6h-12zM458 576h6v6h-6zM416 588h6v6h-6zM404 594h6v6h-6zM398 600h6v6h-6zM380 612h6v6h-6z"/><path fill="#ea9c2d" d="M140 282h6v6h-6zM140 288h6v6h-6zM140 294h6v6h-6zM134 318h6v6h-6zM134 324h6v6h-6zM134 330h6v6h-6zM128 354h6v6h-6zM128 360h6v6h-6zM128 366h6v6h-6zM122 390h6v6h-6zM122 396h6v6h-6zM116 426h6v6h-6zM116 432h6v6h-6zM110 462h6v6h-6zM104 498h6v6h-6zM98 534h6v6h-6zM776 534h36v6h-36zM698 540h30v6h-30zM614 546h36v6h-36zM560 552h24v6h-24zM524 558h18v6h-18zM482 564h24v6h-24zM446 570h18v6h-18zM428 576h6v6h-6zM410 582h12v6h-12zM398 588h12v6h-12zM386 594h12v6h-12zM374 600h12v6h-12zM362 606h12v6h-12zM356 612h12v6h-12z"/><path fill="#e49f2d" d="M146 282h6v6h-6zM146 288h6v6h-6zM140 318h6v6h-6zM140 324h6v6h-6zM134 348h6v6h-6zM134 354h6v6h-6zM128 384h6v6h-6zM122 414h6v6h-6zM116 444h6v6h-6zM110 480h6v6h-6zM104 510h6v6h-6zM788 528h24v6h-24zM716 534h24v6h-24zM638 540h24v6h-24zM572 546h12v6h-12zM530 552h12v6h-12zM494 558h12v6h-12zM452 564h12v6h-12zM428 570h6v6h-6zM398 582h6v6h-6zM380 588h6v6h-6zM368 594h6v6h-6zM86 606h6v6h-6zM344 612h6v6h-6z"/><path fill="#dba52d" d="M152 282h6v6h-6zM146 312h6v6h-6zM812 522h6v6h-6zM746 528h6v6h-6zM596 540h6v6h-6zM416 570h6v6h-6z"/><path fill="#d2a830" d="M158 282h6v6h-6zM152 306h6v6h-6zM146 336h6v6h-6zM140 366h6v6h-6zM134 390h6v6h-6zM128 420h6v6h-6zM116 474h6v6h-6zM812 516h18v6h-18zM746 522h18v6h-18zM686 528h18v6h-18zM614 534h18v6h-18zM554 540h12v6h-12zM518 546h6v6h-6zM476 552h6v6h-6zM98 558h6v6h-6zM434 558h6v6h-6zM416 564h6v6h-6zM398 570h6v6h-6zM380 576h6v6h-6zM362 582h6v6h-6zM356 588h6v6h-6zM350 594h6v6h-6z"/><path fill="#c6ae33" d="M164 282h6v6h-6zM164 288h6v6h-6zM158 312h6v6h-6zM152 336h6v6h-6zM146 360h6v6h-6zM146 366h6v6h-6zM140 390h6v6h-6zM134 414h6v6h-6zM128 438h6v6h-6zM122 462h6v6h-6zM806 510h18v6h-18zM110 516h6v6h-6zM746 516h18v6h-18zM692 522h12v6h-12zM626 528h24v6h-24zM560 534h12v6h-12zM104 540h6v6h-6zM518 540h12v6h-12zM476 546h12v6h-12zM434 552h6v6h-6zM416 558h6v6h-6zM392 564h6v6h-6zM368 570h12v6h-12zM338 594h6v6h-6zM332 600h6v6h-6z"/><path fill="#c0b133" d="M170 282h6v6h-6zM164 306h6v6h-6zM158 330h6v6h-6zM152 354h6v6h-6zM146 378h6v6h-6zM140 402h6v6h-6zM134 426h6v6h-6zM128 450h6v6h-6zM122 474h6v6h-6zM116 498h6v6h-6zM830 504h6v6h-6zM770 510h24v6h-24zM716 516h18v6h-18zM110 522h6v6h-6zM662 522h18v6h-18zM578 528h30v6h-30zM536 534h18v6h-18zM494 540h12v6h-12zM104 546h6v6h-6zM452 546h12v6h-12zM422 552h6v6h-6zM404 558h6v6h-6zM380 564h6v6h-6zM98 570h6v6h-6zM362 570h6v6h-6zM92 594h6v6h-6zM332 594h6v6h-6zM326 600h6v6h-6zM320 606h6v6h-6zM314 612h6v6h-6z"/><path fill="#b1b136" d="M176 282h6v6h-6zM170 306h6v6h-6zM152 372h6v6h-6zM146 396h6v6h-6zM128 462h6v6h-6zM788 504h6v6h-6zM728 510h6v6h-6zM668 516h12v6h-12zM584 522h18v6h-18zM542 528h6v6h-6zM506 534h6v6h-6zM464 540h6v6h-6zM386 558h6v6h-6zM356 570h6v6h-6zM326 594h6v6h-6z"/><path fill="#a2b139" d="M182 282h6v6h-6zM176 300h6v6h-6zM170 324h6v6h-6zM158 366h6v6h-6zM146 408h6v6h-6zM134 450h6v6h-6zM806 498h6v6h-6zM740 504h12v6h-12zM680 510h12v6h-12zM602 516h18v6h-18zM554 522h6v6h-6zM512 528h6v6h-6zM476 534h6v6h-6zM416 546h6v6h-6zM104 558h6v6h-6zM320 594h6v6h-6zM314 600h6v6h-6z"/><path fill="#90b13f" d="M188 282h6v6h-6zM170 342h6v6h-6zM152 402h6v6h-6zM134 462h6v6h-6zM812 492h12v6h-12zM746 498h12v6h-12zM686 504h6v6h-6zM596 510h24v6h-24zM554 516h6v6h-6zM518 522h6v6h-6zM482 528h6v6h-6zM446 534h6v6h-6zM422 540h6v6h-6zM344 570h6v6h-6zM320 588h6v6h-6z"/><path fill="#7eb142" d="M194 282h6v6h-6zM176 342h6v6h-6zM170 360h6v6h-6zM164 378h6v6h-6zM134 474h6v6h-6zM824 486h6v6h-6zM128 492h6v6h-6zM752 492h12v6h-12zM686 498h12v6h-12zM590 504h24v6h-24zM554 510h6v6h-6zM518 516h6v6h-6zM452 528h6v6h-6zM404 540h6v6h-6zM320 582h6v6h-6z"/><path fill="#6fb145" d="M200 282h6v6h-6zM194 300h6v6h-6zM188 318h6v6h-6zM182 336h6v6h-6zM176 354h6v6h-6zM170 372h6v6h-6zM164 390h6v6h-6zM158 408h6v6h-6zM770 486h12v6h-12zM698 492h12v6h-12zM614 498h24v6h-24zM560 504h6v6h-6zM494 516h6v6h-6zM464 522h6v6h-6zM392 540h6v6h-6zM356 552h6v6h-6zM338 564h6v6h-6z"/><path fill="#60b148" d="M206 282h6v6h-6zM170 384h6v6h-6zM164 402h6v6h-6zM158 420h6v6h-6zM788 480h12v6h-12zM710 486h12v6h-12zM638 492h18v6h-18zM566 498h6v6h-6zM470 516h6v6h-6zM440 522h6v6h-6zM380 540h6v6h-6zM350 552h6v6h-6zM104 576h6v6h-6z"/><path fill="#4eb14b" d="M212 282h6v6h-6zM188 348h6v6h-6zM164 414h6v6h-6zM806 474h6v6h-6zM722 480h6v6h-6zM650 486h6v6h-6zM566 492h6v6h-6zM536 498h6v6h-6zM506 504h6v6h-6zM332 558h6v6h-6zM278 600h6v6h-6zM272 606h6v6h-6zM266 612h6v6h-6z"/><path fill="#42b14e" d="M218 282h6v6h-6zM212 300h6v6h-6zM206 312h6v6h-6zM200 330h6v6h-6zM194 348h6v6h-6zM188 360h6v6h-6zM182 378h6v6h-6zM170 408h6v6h-6zM164 426h6v6h-6zM152 456h6v6h-6zM782 468h24v6h-24zM722 474h12v6h-12zM662 480h12v6h-12zM134 504h6v6h-6zM494 504h6v6h-6zM464 510h6v6h-6zM398 528h6v6h-6zM356 540h6v6h-6zM344 546h6v6h-6zM116 552h6v6h-6zM314 564h6v6h-6zM284 588h6v6h-6zM278 594h6v6h-6z"/><path fill="#3cb157" d="M266 282h6v6h-6zM260 294h6v6h-6zM254 306h6v6h-6zM248 318h6v6h-6zM242 330h6v6h-6zM236 342h6v6h-6zM230 354h6v6h-6zM224 366h6v6h-6zM218 378h6v6h-6zM212 390h6v6h-6zM206 402h6v6h-6zM812 426h18v6h-18zM788 432h12v6h-12zM758 438h12v6h-12zM728 444h12v6h-12zM698 450h18v6h-18zM674 456h12v6h-12zM644 462h12v6h-12zM620 468h6v6h-6zM596 474h6v6h-6zM566 480h6v6h-6zM536 486h6v6h-6zM506 492h6v6h-6zM482 498h6v6h-6zM452 504h6v6h-6zM428 510h6v6h-6zM404 516h12v6h-12zM368 522h6v6h-6zM296 552h6v6h-6zM284 558h6v6h-6zM266 570h6v6h-6zM260 576h6v6h-6z"/><path fill="#39ae60" d="M272 282h6v6h-6zM266 294h6v6h-6zM260 306h6v6h-6zM254 318h6v6h-6zM248 330h6v6h-6zM242 342h6v6h-6zM206 408h6v6h-6zM824 414h12v6h-12zM200 420h6v6h-6zM794 420h18v6h-18zM770 426h12v6h-12zM194 432h6v6h-6zM740 432h18v6h-18zM716 438h12v6h-12zM188 444h6v6h-6zM692 444h12v6h-12zM662 450h12v6h-12zM638 456h12v6h-12zM614 462h12v6h-12zM590 468h6v6h-6zM560 474h12v6h-12zM536 480h6v6h-6zM506 486h12v6h-12zM482 492h6v6h-6zM452 498h12v6h-12zM416 510h6v6h-6zM386 516h6v6h-6zM140 534h6v6h-6zM134 546h6v6h-6zM242 588h6v6h-6z"/><path fill="#36ae66" d="M278 282h6v6h-6zM272 294h6v6h-6zM254 324h6v6h-6zM248 336h6v6h-6zM242 348h6v6h-6zM236 360h6v6h-6zM818 408h18v6h-18zM206 414h6v6h-6zM794 414h18v6h-18zM770 420h12v6h-12zM200 426h6v6h-6zM740 426h18v6h-18zM716 432h12v6h-12zM194 438h6v6h-6zM692 438h12v6h-12zM668 444h12v6h-12zM638 450h12v6h-12zM614 456h12v6h-12zM590 462h12v6h-12zM566 468h12v6h-12zM542 474h12v6h-12zM518 480h6v6h-6zM488 486h12v6h-12zM164 492h6v6h-6zM464 492h6v6h-6zM440 498h6v6h-6zM158 504h6v6h-6zM422 504h6v6h-6zM398 510h12v6h-12zM374 516h6v6h-6zM344 522h6v6h-6zM308 540h6v6h-6zM278 558h6v6h-6zM254 576h6v6h-6zM116 582h6v6h-6z"/><path fill="#33ae6f" d="M284 282h6v6h-6zM278 294h6v6h-6zM260 324h6v6h-6zM254 336h6v6h-6zM248 348h6v6h-6zM230 378h6v6h-6zM224 390h6v6h-6zM830 396h6v6h-6zM218 402h6v6h-6zM806 402h12v6h-12zM782 408h12v6h-12zM758 414h12v6h-12zM728 420h12v6h-12zM704 426h12v6h-12zM200 432h6v6h-6zM680 432h12v6h-12zM656 438h12v6h-12zM194 444h6v6h-6zM632 444h12v6h-12zM608 450h12v6h-12zM590 456h6v6h-6zM566 462h6v6h-6zM542 468h6v6h-6zM518 474h6v6h-6zM494 480h6v6h-6zM464 486h12v6h-12zM440 492h12v6h-12zM164 498h6v6h-6zM410 504h6v6h-6zM386 510h6v6h-6zM362 516h6v6h-6zM134 552h6v6h-6zM284 552h6v6h-6zM266 564h6v6h-6zM230 594h6v6h-6z"/><path fill="#30ab78" d="M290 282h6v6h-6zM284 294h6v6h-6zM278 306h6v6h-6zM266 324h6v6h-6zM260 336h6v6h-6zM254 348h6v6h-6zM242 366h6v6h-6zM236 378h6v6h-6zM812 390h12v6h-12zM788 396h12v6h-12zM764 402h12v6h-12zM218 408h6v6h-6zM740 408h12v6h-12zM722 414h6v6h-6zM212 420h6v6h-6zM698 420h6v6h-6zM674 426h12v6h-12zM650 432h12v6h-12zM626 438h12v6h-12zM602 444h12v6h-12zM194 450h6v6h-6zM584 450h6v6h-6zM560 456h12v6h-12zM188 462h6v6h-6zM536 462h12v6h-12zM518 468h6v6h-6zM494 474h6v6h-6zM470 480h6v6h-6zM446 486h6v6h-6zM170 492h6v6h-6zM428 492h6v6h-6zM392 504h6v6h-6zM374 510h6v6h-6zM332 522h6v6h-6zM146 534h6v6h-6zM272 558h6v6h-6zM122 576h6v6h-6zM206 612h6v6h-6z"/><path fill="#2dab7e" d="M296 282h6v6h-6zM278 312h6v6h-6zM272 324h6v6h-6zM260 342h6v6h-6zM254 354h6v6h-6zM242 372h6v6h-6zM236 384h6v6h-6zM812 384h12v6h-12zM788 390h12v6h-12zM764 396h12v6h-12zM740 402h12v6h-12zM722 408h12v6h-12zM218 414h6v6h-6zM698 414h12v6h-12zM674 420h12v6h-12zM650 426h12v6h-12zM632 432h6v6h-6zM608 438h12v6h-12zM200 444h6v6h-6zM590 444h6v6h-6zM566 450h6v6h-6zM194 456h6v6h-6zM542 456h12v6h-12zM524 462h6v6h-6zM500 468h6v6h-6zM476 474h12v6h-12zM452 480h12v6h-12zM176 486h6v6h-6zM434 486h6v6h-6zM404 498h6v6h-6zM386 504h6v6h-6zM368 510h6v6h-6zM158 516h6v6h-6zM254 570h6v6h-6zM116 588h6v6h-6zM218 600h6v6h-6z"/><path fill="#2aab87" d="M302 282h6v6h-6zM296 294h6v6h-6zM284 312h6v6h-6zM278 324h6v6h-6zM266 342h6v6h-6zM260 354h6v6h-6zM248 372h6v6h-6zM818 372h12v6h-12zM800 378h12v6h-12zM776 384h12v6h-12zM752 390h12v6h-12zM734 396h6v6h-6zM230 402h6v6h-6zM710 402h12v6h-12zM686 408h12v6h-12zM668 414h6v6h-6zM644 420h12v6h-12zM626 426h6v6h-6zM212 432h6v6h-6zM602 432h12v6h-12zM584 438h6v6h-6zM560 444h12v6h-12zM542 450h6v6h-6zM524 456h6v6h-6zM194 462h6v6h-6zM500 462h6v6h-6zM482 468h6v6h-6zM458 474h6v6h-6zM434 480h6v6h-6zM422 486h6v6h-6zM392 498h6v6h-6zM164 510h6v6h-6zM146 540h6v6h-6zM128 570h6v6h-6zM236 582h6v6h-6zM206 606h6v6h-6z"/><path fill="#27a88d" d="M308 282h6v6h-6zM296 300h6v6h-6zM290 312h6v6h-6zM278 330h6v6h-6zM260 360h6v6h-6zM818 366h6v6h-6zM794 372h12v6h-12zM248 378h6v6h-6zM776 378h6v6h-6zM752 384h12v6h-12zM734 390h6v6h-6zM710 396h12v6h-12zM692 402h6v6h-6zM230 408h6v6h-6zM668 408h6v6h-6zM650 414h6v6h-6zM626 420h6v6h-6zM218 426h6v6h-6zM608 426h6v6h-6zM590 432h6v6h-6zM566 438h6v6h-6zM548 444h6v6h-6zM530 450h6v6h-6zM200 456h6v6h-6zM506 456h6v6h-6zM488 462h6v6h-6zM464 468h6v6h-6zM446 474h6v6h-6zM428 480h6v6h-6zM416 486h6v6h-6zM386 498h6v6h-6zM170 504h6v6h-6zM302 534h6v6h-6zM242 576h6v6h-6zM218 594h6v6h-6z"/><path fill="#21a89c" d="M320 282h6v6h-6zM824 348h6v6h-6zM800 354h6v6h-6zM782 360h6v6h-6zM266 366h6v6h-6zM764 366h6v6h-6zM740 372h6v6h-6zM722 378h6v6h-6zM254 384h6v6h-6zM704 384h6v6h-6zM662 396h6v6h-6zM242 402h6v6h-6zM644 402h6v6h-6zM230 420h6v6h-6zM566 426h6v6h-6zM548 432h6v6h-6zM218 438h6v6h-6zM530 438h6v6h-6zM512 444h6v6h-6zM494 450h6v6h-6zM452 462h6v6h-6zM434 468h6v6h-6zM422 474h6v6h-6zM410 480h6v6h-6zM398 486h6v6h-6zM344 510h6v6h-6zM296 534h6v6h-6zM140 558h6v6h-6zM128 576h6v6h-6zM236 576h6v6h-6z"/><path fill="#21a8a2" d="M326 282h6v6h-6zM320 288h6v6h-6zM314 300h6v6h-6zM308 306h6v6h-6zM302 318h6v6h-6zM290 336h6v6h-6zM830 336h6v6h-6zM812 342h18v6h-18zM794 348h12v6h-12zM278 354h6v6h-6zM770 354h18v6h-18zM752 360h18v6h-18zM734 366h18v6h-18zM266 372h6v6h-6zM716 372h12v6h-12zM698 378h12v6h-12zM680 384h12v6h-12zM254 390h6v6h-6zM662 390h12v6h-12zM638 396h12v6h-12zM620 402h12v6h-12zM602 408h12v6h-12zM590 414h6v6h-6zM572 420h6v6h-6zM554 426h6v6h-6zM536 432h6v6h-6zM518 438h6v6h-6zM500 444h6v6h-6zM482 450h6v6h-6zM464 456h6v6h-6zM440 462h6v6h-6zM428 468h6v6h-6zM416 474h6v6h-6zM404 480h6v6h-6zM392 486h6v6h-6zM380 492h6v6h-6zM368 498h6v6h-6zM314 522h6v6h-6zM284 540h6v6h-6zM242 570h6v6h-6z"/><path fill="#21a5a5" d="M332 282h6v6h-6zM326 288h6v6h-6zM320 300h6v6h-6zM314 306h6v6h-6zM308 312h6v6h-6zM302 324h6v6h-6zM824 324h12v6h-12zM296 330h6v6h-6zM806 330h30v6h-30zM794 336h24v6h-24zM290 342h6v6h-6zM776 342h24v6h-24zM284 348h6v6h-6zM758 348h24v6h-24zM740 354h24v6h-24zM278 360h6v6h-6zM722 360h24v6h-24zM272 366h6v6h-6zM704 366h24v6h-24zM686 372h18v6h-18zM266 378h6v6h-6zM668 378h18v6h-18zM260 384h6v6h-6zM650 384h18v6h-18zM632 390h18v6h-18zM254 396h6v6h-6zM614 396h18v6h-18zM248 402h6v6h-6zM602 402h12v6h-12zM584 408h12v6h-12zM566 414h12v6h-12zM236 420h6v6h-6zM548 420h18v6h-18zM536 426h12v6h-12zM518 432h12v6h-12zM224 438h6v6h-6zM500 438h12v6h-12zM482 444h12v6h-12zM464 450h12v6h-12zM212 456h6v6h-6zM446 456h12v6h-12zM434 462h6v6h-6zM422 468h6v6h-6zM200 474h6v6h-6zM410 474h6v6h-6zM398 480h6v6h-6zM386 486h6v6h-6zM188 492h6v6h-6zM374 492h6v6h-6zM362 498h6v6h-6zM350 504h6v6h-6zM302 528h6v6h-6zM146 552h6v6h-6zM248 564h6v6h-6zM134 570h6v6h-6zM224 582h6v6h-6zM122 588h6v6h-6zM200 600h6v6h-6zM194 606h6v6h-6z"/><path fill="#21a5ae" d="M344 282h6v6h-6zM338 288h6v6h-6zM830 294h6v6h-6zM332 300h6v6h-6zM818 300h18v6h-18zM326 306h6v6h-6zM800 306h24v6h-24zM320 312h6v6h-6zM788 312h24v6h-24zM770 318h24v6h-24zM314 324h6v6h-6zM758 324h18v6h-18zM308 330h6v6h-6zM740 330h24v6h-24zM728 336h18v6h-18zM302 342h6v6h-6zM710 342h18v6h-18zM296 348h6v6h-6zM692 348h24v6h-24zM680 354h18v6h-18zM662 360h18v6h-18zM284 366h6v6h-6zM650 366h18v6h-18zM278 372h6v6h-6zM632 372h18v6h-18zM620 378h12v6h-12zM602 384h18v6h-18zM266 390h6v6h-6zM590 390h12v6h-12zM572 396h18v6h-18zM560 402h12v6h-12zM254 408h6v6h-6zM542 408h12v6h-12zM248 414h6v6h-6zM530 414h12v6h-12zM518 420h6v6h-6zM500 426h12v6h-12zM236 432h6v6h-6zM482 432h12v6h-12zM470 438h6v6h-6zM452 444h6v6h-6zM224 450h6v6h-6zM434 450h12v6h-12zM218 456h6v6h-6zM422 456h12v6h-12zM416 462h6v6h-6zM404 468h6v6h-6zM206 474h6v6h-6zM392 474h6v6h-6zM380 480h6v6h-6zM188 498h6v6h-6zM350 498h6v6h-6zM338 504h6v6h-6zM326 510h6v6h-6zM176 516h6v6h-6zM314 516h6v6h-6zM296 528h6v6h-6zM158 540h6v6h-6zM260 552h6v6h-6zM146 558h6v6h-6zM236 570h6v6h-6zM212 588h6v6h-6z"/><path fill="#21a2b1" d="M350 282h6v6h-6zM344 288h6v6h-6zM824 288h12v6h-12zM338 294h6v6h-6zM812 294h18v6h-18zM794 300h18v6h-18zM332 306h6v6h-6zM782 306h18v6h-18zM326 312h6v6h-6zM764 312h18v6h-18zM752 318h18v6h-18zM734 324h18v6h-18zM314 330h6v6h-6zM722 330h18v6h-18zM308 336h6v6h-6zM704 336h18v6h-18zM692 342h18v6h-18zM680 348h12v6h-12zM296 354h6v6h-6zM662 354h12v6h-12zM290 360h6v6h-6zM650 360h12v6h-12zM632 366h12v6h-12zM620 372h12v6h-12zM278 378h6v6h-6zM602 378h12v6h-12zM590 384h12v6h-12zM578 390h12v6h-12zM266 396h6v6h-6zM560 396h12v6h-12zM260 402h6v6h-6zM548 402h12v6h-12zM536 408h6v6h-6zM518 414h12v6h-12zM248 420h6v6h-6zM506 420h6v6h-6zM242 426h6v6h-6zM488 426h12v6h-12zM476 432h6v6h-6zM458 438h6v6h-6zM230 444h6v6h-6zM440 444h12v6h-12zM428 450h6v6h-6zM416 456h6v6h-6zM410 462h6v6h-6zM212 468h6v6h-6zM398 468h6v6h-6zM386 474h6v6h-6zM200 486h6v6h-6zM368 486h6v6h-6zM356 492h6v6h-6zM344 498h6v6h-6zM332 504h6v6h-6zM182 510h6v6h-6zM302 522h6v6h-6zM164 534h6v6h-6zM284 534h6v6h-6zM266 546h6v6h-6zM242 564h6v6h-6zM134 576h6v6h-6zM218 582h6v6h-6z"/><path fill="#dba530" d="M152 288h6v6h-6zM146 318h6v6h-6zM140 342h6v6h-6zM134 372h6v6h-6zM128 402h6v6h-6zM122 432h6v6h-6zM116 462h6v6h-6zM110 492h6v6h-6zM104 522h6v6h-6zM800 522h12v6h-12zM734 528h12v6h-12zM668 534h12v6h-12zM584 540h12v6h-12zM542 546h12v6h-12zM500 552h12v6h-12zM464 558h6v6h-6zM398 576h6v6h-6zM380 582h6v6h-6zM362 588h6v6h-6zM356 594h6v6h-6zM350 600h6v6h-6zM344 606h6v6h-6zM338 612h6v6h-6z"/><path fill="#cfab30" d="M158 288h6v6h-6zM152 318h6v6h-6zM146 342h6v6h-6zM140 372h6v6h-6zM134 396h6v6h-6zM128 426h6v6h-6zM122 450h6v6h-6zM110 504h6v6h-6zM794 516h12v6h-12zM734 522h12v6h-12zM674 528h12v6h-12zM596 534h12v6h-12zM548 540h6v6h-6zM506 546h6v6h-6zM464 552h6v6h-6zM410 564h6v6h-6zM392 570h6v6h-6zM374 576h6v6h-6zM332 606h6v6h-6zM326 612h6v6h-6z"/><path fill="#bdb133" d="M170 288h6v6h-6zM164 312h6v6h-6zM158 336h6v6h-6zM152 360h6v6h-6zM146 384h6v6h-6zM140 408h6v6h-6zM824 504h6v6h-6zM764 510h6v6h-6zM704 516h12v6h-12zM650 522h12v6h-12zM572 528h6v6h-6zM530 534h6v6h-6zM488 540h6v6h-6zM446 546h6v6h-6zM398 558h6v6h-6zM374 564h6v6h-6zM338 588h6v6h-6z"/><path fill="#aeb139" d="M176 288h6v6h-6zM158 354h6v6h-6zM776 504h6v6h-6zM716 510h6v6h-6zM662 516h6v6h-6zM536 528h6v6h-6zM458 540h6v6h-6zM404 552h6v6h-6z"/><path fill="#9cb13c" d="M182 288h6v6h-6zM170 330h6v6h-6zM158 372h6v6h-6zM146 414h6v6h-6zM134 456h6v6h-6zM782 498h12v6h-12zM722 504h6v6h-6zM662 510h12v6h-12zM578 516h6v6h-6zM542 522h6v6h-6zM500 528h6v6h-6zM464 534h6v6h-6zM410 546h6v6h-6zM368 558h6v6h-6zM332 582h6v6h-6z"/><path fill="#8ab13f" d="M188 288h6v6h-6zM176 330h6v6h-6zM170 348h6v6h-6zM152 408h6v6h-6zM128 486h6v6h-6zM794 492h6v6h-6zM722 498h12v6h-12zM662 504h12v6h-12zM578 510h6v6h-6zM542 516h6v6h-6zM506 522h6v6h-6zM470 528h6v6h-6zM416 540h6v6h-6zM110 546h6v6h-6zM374 552h6v6h-6zM350 564h6v6h-6z"/><path fill="#7bb142" d="M194 288h6v6h-6zM188 306h6v6h-6zM182 324h6v6h-6zM146 438h6v6h-6zM140 456h6v6h-6zM812 486h12v6h-12zM740 492h12v6h-12zM674 498h12v6h-12zM584 504h6v6h-6zM548 510h6v6h-6zM512 516h6v6h-6zM482 522h6v6h-6zM446 528h6v6h-6zM422 534h6v6h-6zM362 552h6v6h-6zM344 564h6v6h-6zM326 576h6v6h-6zM98 588h6v6h-6zM284 612h6v6h-6z"/><path fill="#69b145" d="M200 288h6v6h-6zM194 306h6v6h-6zM752 486h6v6h-6zM584 498h6v6h-6zM518 510h6v6h-6zM428 528h6v6h-6z"/><path fill="#5ab14b" d="M206 288h6v6h-6zM176 372h6v6h-6zM170 390h6v6h-6zM764 480h12v6h-12zM692 486h12v6h-12zM134 492h6v6h-6zM584 492h30v6h-30zM554 498h6v6h-6zM524 504h6v6h-6zM494 510h6v6h-6zM464 516h6v6h-6zM434 522h6v6h-6zM416 528h6v6h-6zM374 540h6v6h-6zM338 558h6v6h-6zM290 594h6v6h-6z"/><path fill="#48b14e" d="M212 288h6v6h-6zM206 306h6v6h-6zM188 354h6v6h-6zM170 402h6v6h-6zM146 468h6v6h-6zM830 468h6v6h-6zM758 474h24v6h-24zM686 480h18v6h-18zM596 486h18v6h-18zM470 510h6v6h-6zM128 516h6v6h-6zM440 516h6v6h-6zM380 534h6v6h-6zM338 552h6v6h-6zM302 576h6v6h-6zM296 582h6v6h-6z"/><path fill="#33ae6c" d="M278 288h6v6h-6zM272 300h6v6h-6zM266 312h6v6h-6zM248 342h6v6h-6zM242 354h6v6h-6zM236 366h6v6h-6zM818 402h12v6h-12zM212 408h6v6h-6zM794 408h12v6h-12zM770 414h12v6h-12zM206 420h6v6h-6zM740 420h18v6h-18zM716 426h12v6h-12zM692 432h12v6h-12zM668 438h12v6h-12zM644 444h12v6h-12zM620 450h12v6h-12zM596 456h12v6h-12zM572 462h12v6h-12zM548 468h12v6h-12zM176 474h6v6h-6zM524 474h6v6h-6zM500 480h6v6h-6zM170 486h6v6h-6zM476 486h6v6h-6zM452 492h6v6h-6zM428 498h6v6h-6zM416 504h6v6h-6zM392 510h6v6h-6zM338 522h6v6h-6zM326 528h6v6h-6zM140 540h6v6h-6zM296 546h6v6h-6zM110 594h6v6h-6zM224 600h6v6h-6zM218 606h6v6h-6z"/><path fill="#30ae72" d="M284 288h6v6h-6zM260 330h6v6h-6zM740 414h6v6h-6zM716 420h6v6h-6zM206 426h6v6h-6zM692 426h6v6h-6zM668 432h6v6h-6zM644 438h6v6h-6zM578 456h6v6h-6zM554 462h6v6h-6zM182 468h6v6h-6zM530 468h6v6h-6zM506 474h6v6h-6zM482 480h6v6h-6zM458 486h6v6h-6zM434 492h6v6h-6z"/><path fill="#2dab7b" d="M290 288h6v6h-6zM284 300h6v6h-6zM266 330h6v6h-6zM248 360h6v6h-6zM824 384h6v6h-6zM800 390h6v6h-6zM776 396h6v6h-6zM224 402h6v6h-6zM752 402h12v6h-12zM734 408h6v6h-6zM710 414h6v6h-6zM686 420h6v6h-6zM662 426h6v6h-6zM638 432h6v6h-6zM596 444h6v6h-6zM572 450h6v6h-6zM554 456h6v6h-6zM530 462h6v6h-6zM506 468h6v6h-6zM182 474h6v6h-6zM422 492h6v6h-6zM320 528h6v6h-6zM140 546h6v6h-6z"/><path fill="#2dab84" d="M296 288h6v6h-6zM278 318h6v6h-6zM260 348h6v6h-6zM242 378h6v6h-6zM818 378h6v6h-6zM794 384h6v6h-6zM728 402h6v6h-6zM638 426h6v6h-6zM596 438h6v6h-6zM554 450h6v6h-6zM512 462h6v6h-6zM380 504h6v6h-6zM362 510h6v6h-6zM230 588h6v6h-6z"/><path fill="#27a893" d="M308 288h6v6h-6zM290 318h6v6h-6zM278 336h6v6h-6zM266 354h6v6h-6zM818 360h6v6h-6zM800 366h6v6h-6zM776 372h6v6h-6zM758 378h6v6h-6zM248 384h6v6h-6zM734 384h6v6h-6zM716 390h6v6h-6zM692 396h6v6h-6zM236 402h6v6h-6zM674 402h6v6h-6zM650 408h12v6h-12zM632 414h6v6h-6zM614 420h6v6h-6zM572 432h6v6h-6zM554 438h6v6h-6zM536 444h6v6h-6zM206 450h6v6h-6zM494 456h6v6h-6zM476 462h6v6h-6zM452 468h6v6h-6zM434 474h6v6h-6zM422 480h6v6h-6zM380 498h6v6h-6zM350 510h6v6h-6zM164 516h6v6h-6zM290 540h6v6h-6zM272 552h6v6h-6zM134 564h6v6h-6zM248 570h6v6h-6zM224 588h6v6h-6z"/><path fill="#24a899" d="M314 288h6v6h-6zM302 306h6v6h-6zM290 324h6v6h-6zM278 342h6v6h-6zM830 348h6v6h-6zM812 354h12v6h-12zM794 360h12v6h-12zM770 366h12v6h-12zM260 372h6v6h-6zM752 372h12v6h-12zM734 378h6v6h-6zM710 384h12v6h-12zM248 390h6v6h-6zM692 390h12v6h-12zM674 396h6v6h-6zM650 402h12v6h-12zM236 408h6v6h-6zM632 408h6v6h-6zM614 414h6v6h-6zM596 420h6v6h-6zM224 426h6v6h-6zM578 426h6v6h-6zM560 432h6v6h-6zM536 438h12v6h-12zM518 444h6v6h-6zM500 450h6v6h-6zM482 456h6v6h-6zM464 462h6v6h-6zM440 468h6v6h-6zM428 474h6v6h-6zM182 492h6v6h-6zM374 498h6v6h-6zM170 510h6v6h-6zM332 516h6v6h-6zM308 528h6v6h-6zM278 546h6v6h-6zM254 564h6v6h-6zM212 594h6v6h-6z"/><path fill="#1e9fcc" d="M686 288h6v6h-6zM674 294h6v6h-6zM662 300h6v6h-6zM368 306h6v6h-6zM608 330h6v6h-6zM596 336h6v6h-6zM338 342h6v6h-6zM542 366h6v6h-6zM530 372h6v6h-6zM308 378h6v6h-6zM482 396h6v6h-6zM470 402h6v6h-6zM458 408h6v6h-6zM278 414h6v6h-6zM446 414h6v6h-6zM248 450h6v6h-6zM380 456h6v6h-6zM296 516h6v6h-6z"/><path fill="#f0992d" d="M134 294h6v6h-6zM128 330h6v6h-6zM128 336h6v6h-6zM122 372h6v6h-6zM116 408h6v6h-6zM104 486h6v6h-6zM98 522h6v6h-6zM770 540h18v6h-18zM680 546h18v6h-18zM614 552h12v6h-12zM560 558h12v6h-12zM524 564h6v6h-6zM488 570h6v6h-6zM446 576h12v6h-12zM428 582h6v6h-6zM386 606h6v6h-6z"/><path fill="#e4a22d" d="M146 294h6v6h-6zM116 450h6v6h-6zM782 528h6v6h-6zM488 558h6v6h-6zM410 576h6v6h-6zM356 600h6v6h-6zM350 606h6v6h-6z"/><path fill="#d8a530" d="M152 294h6v6h-6zM146 324h6v6h-6zM140 348h6v6h-6zM134 378h6v6h-6zM128 408h6v6h-6zM122 438h6v6h-6zM116 468h6v6h-6zM782 522h18v6h-18zM716 528h18v6h-18zM650 534h18v6h-18zM578 540h6v6h-6zM536 546h6v6h-6zM98 552h6v6h-6zM494 552h6v6h-6zM452 558h12v6h-12zM428 564h6v6h-6zM410 570h6v6h-6zM392 576h6v6h-6zM92 582h6v6h-6zM374 582h6v6h-6z"/><path fill="#ccab30" d="M158 294h6v6h-6zM146 348h6v6h-6zM134 402h6v6h-6zM116 480h6v6h-6zM782 516h12v6h-12zM722 522h12v6h-12zM662 528h12v6h-12zM104 534h6v6h-6zM584 534h12v6h-12zM542 540h6v6h-6zM500 546h6v6h-6zM458 552h6v6h-6zM428 558h6v6h-6zM386 570h6v6h-6zM368 576h6v6h-6zM344 594h6v6h-6zM338 600h6v6h-6z"/><path fill="#c3ae33" d="M164 294h6v6h-6zM158 318h6v6h-6zM152 342h6v6h-6zM122 468h6v6h-6zM116 492h6v6h-6zM800 510h6v6h-6zM740 516h6v6h-6zM686 522h6v6h-6zM620 528h6v6h-6zM512 540h6v6h-6zM470 546h6v6h-6zM410 558h6v6h-6zM344 588h6v6h-6z"/><path fill="#bab136" d="M170 294h6v6h-6zM164 318h6v6h-6zM134 432h6v6h-6zM128 456h6v6h-6zM122 480h6v6h-6zM812 504h12v6h-12zM752 510h12v6h-12zM698 516h6v6h-6zM638 522h12v6h-12zM566 528h6v6h-6zM524 534h6v6h-6zM482 540h6v6h-6zM440 546h6v6h-6zM416 552h6v6h-6zM344 582h6v6h-6z"/><path fill="#a8b139" d="M176 294h6v6h-6zM158 360h6v6h-6zM146 402h6v6h-6zM140 426h6v6h-6zM128 468h6v6h-6zM824 498h6v6h-6zM758 504h12v6h-12zM698 510h12v6h-12zM638 516h12v6h-12zM566 522h6v6h-6zM524 528h6v6h-6zM110 534h6v6h-6zM488 534h6v6h-6zM446 540h6v6h-6zM422 546h6v6h-6z"/><path fill="#87b13f" d="M188 294h6v6h-6zM182 312h6v6h-6zM164 372h6v6h-6zM158 390h6v6h-6zM134 468h6v6h-6zM782 492h12v6h-12zM716 498h6v6h-6zM656 504h6v6h-6zM572 510h6v6h-6zM536 516h6v6h-6zM500 522h6v6h-6zM464 528h6v6h-6zM434 534h6v6h-6zM392 546h6v6h-6zM332 576h6v6h-6zM296 606h6v6h-6zM290 612h6v6h-6z"/><path fill="#21a2b4" d="M806 294h6v6h-6zM776 306h6v6h-6zM674 348h6v6h-6zM644 360h6v6h-6zM284 372h6v6h-6zM470 432h6v6h-6zM218 462h6v6h-6z"/><path fill="#e79c2d" d="M140 300h6v6h-6zM134 336h6v6h-6zM122 402h6v6h-6zM110 468h6v6h-6zM764 534h12v6h-12zM686 540h12v6h-12zM602 546h12v6h-12zM554 552h6v6h-6zM518 558h6v6h-6zM476 564h6v6h-6zM92 570h6v6h-6zM440 570h6v6h-6zM422 576h6v6h-6zM392 588h6v6h-6zM380 594h6v6h-6zM368 600h6v6h-6z"/><path fill="#e1a22d" d="M146 300h6v6h-6zM140 330h6v6h-6zM134 360h6v6h-6zM128 390h6v6h-6zM122 420h6v6h-6zM104 516h6v6h-6zM764 528h18v6h-18zM698 534h18v6h-18zM620 540h18v6h-18zM98 546h6v6h-6zM560 546h12v6h-12zM524 552h6v6h-6zM482 558h6v6h-6zM440 564h12v6h-12zM422 570h6v6h-6zM92 576h6v6h-6zM392 582h6v6h-6zM374 588h6v6h-6zM362 594h6v6h-6z"/><path fill="#c9ab33" d="M158 300h6v6h-6zM110 510h6v6h-6zM656 528h6v6h-6zM422 558h6v6h-6zM356 582h6v6h-6z"/><path fill="#b4b136" d="M170 300h6v6h-6zM164 324h6v6h-6zM158 348h6v6h-6zM140 414h6v6h-6zM134 438h6v6h-6zM794 504h12v6h-12zM734 510h12v6h-12zM680 516h6v6h-6zM602 522h18v6h-18zM548 528h12v6h-12zM512 534h6v6h-6zM470 540h6v6h-6zM104 552h6v6h-6zM410 552h6v6h-6zM350 576h6v6h-6zM320 600h6v6h-6zM314 606h6v6h-6zM308 612h6v6h-6z"/><path fill="#93b13f" d="M182 300h6v6h-6zM164 360h6v6h-6zM692 504h6v6h-6zM620 510h6v6h-6zM380 552h6v6h-6zM362 558h6v6h-6z"/><path fill="#81b142" d="M188 300h6v6h-6zM182 318h6v6h-6zM158 396h6v6h-6zM152 414h6v6h-6zM830 486h6v6h-6zM764 492h6v6h-6zM698 498h6v6h-6zM614 504h24v6h-24zM122 510h6v6h-6zM560 510h6v6h-6zM524 516h6v6h-6zM488 522h6v6h-6zM458 528h6v6h-6zM428 534h6v6h-6zM386 546h6v6h-6zM338 570h6v6h-6zM314 588h6v6h-6zM92 606h6v6h-6z"/><path fill="#5db148" d="M200 300h6v6h-6zM194 318h6v6h-6zM188 336h6v6h-6zM152 438h6v6h-6zM146 456h6v6h-6zM776 480h12v6h-12zM704 486h6v6h-6zM614 492h24v6h-24zM560 498h6v6h-6zM530 504h6v6h-6zM500 510h6v6h-6zM398 534h6v6h-6zM320 570h6v6h-6zM278 606h6v6h-6zM272 612h6v6h-6z"/><path fill="#4eb14e" d="M206 300h6v6h-6zM182 366h6v6h-6zM158 432h6v6h-6zM800 474h6v6h-6zM716 480h6v6h-6zM644 486h6v6h-6zM476 510h6v6h-6zM446 516h6v6h-6zM386 534h6v6h-6zM284 594h6v6h-6z"/><path fill="#30ab75" d="M278 300h6v6h-6zM272 312h6v6h-6zM248 354h6v6h-6zM824 390h12v6h-12zM224 396h6v6h-6zM800 396h12v6h-12zM776 402h12v6h-12zM752 408h12v6h-12zM728 414h12v6h-12zM704 420h12v6h-12zM686 426h6v6h-6zM662 432h6v6h-6zM200 438h6v6h-6zM638 438h6v6h-6zM614 444h6v6h-6zM590 450h12v6h-12zM572 456h6v6h-6zM548 462h6v6h-6zM524 468h6v6h-6zM500 474h6v6h-6zM176 480h6v6h-6zM476 480h6v6h-6zM452 486h6v6h-6zM416 498h6v6h-6zM398 504h6v6h-6zM152 522h6v6h-6zM302 540h6v6h-6zM242 582h6v6h-6z"/><path fill="#2aab84" d="M290 300h6v6h-6zM272 330h6v6h-6zM254 360h6v6h-6zM830 372h6v6h-6zM812 378h6v6h-6zM788 384h6v6h-6zM236 390h6v6h-6zM764 390h12v6h-12zM740 396h12v6h-12zM722 402h6v6h-6zM698 408h12v6h-12zM674 414h12v6h-12zM218 420h6v6h-6zM656 420h6v6h-6zM632 426h6v6h-6zM614 432h6v6h-6zM590 438h6v6h-6zM572 444h6v6h-6zM200 450h6v6h-6zM548 450h6v6h-6zM530 456h6v6h-6zM506 462h6v6h-6zM488 468h6v6h-6zM464 474h6v6h-6zM182 480h6v6h-6zM440 480h6v6h-6zM410 492h6v6h-6zM296 540h6v6h-6zM260 564h6v6h-6zM200 612h6v6h-6z"/><path fill="#24a893" d="M302 300h6v6h-6zM812 360h6v6h-6zM260 366h6v6h-6zM794 366h6v6h-6zM752 378h6v6h-6zM710 390h6v6h-6zM668 402h6v6h-6zM608 420h6v6h-6zM590 426h6v6h-6zM218 432h6v6h-6zM512 450h6v6h-6zM176 498h6v6h-6zM200 606h6v6h-6zM194 612h6v6h-6z"/><path fill="#24a89c" d="M308 300h6v6h-6zM296 318h6v6h-6zM284 336h6v6h-6zM272 354h6v6h-6zM806 354h6v6h-6zM788 360h6v6h-6zM746 372h6v6h-6zM728 378h6v6h-6zM686 390h6v6h-6zM668 396h6v6h-6zM626 408h6v6h-6zM608 414h6v6h-6zM590 420h6v6h-6zM572 426h6v6h-6zM554 432h6v6h-6zM206 456h6v6h-6zM476 456h6v6h-6zM458 462h6v6h-6zM194 474h6v6h-6zM386 492h6v6h-6zM116 594h6v6h-6z"/><path fill="#9fb13c" d="M176 306h6v6h-6zM164 348h6v6h-6zM152 390h6v6h-6zM140 432h6v6h-6zM128 474h6v6h-6zM794 498h6v6h-6zM728 504h12v6h-12zM674 510h6v6h-6zM116 516h6v6h-6zM584 516h12v6h-12zM548 522h6v6h-6zM506 528h6v6h-6zM470 534h6v6h-6zM434 540h6v6h-6zM392 552h6v6h-6zM350 570h6v6h-6zM326 588h6v6h-6z"/><path fill="#8db13f" d="M182 306h6v6h-6zM176 324h6v6h-6zM164 366h6v6h-6zM158 384h6v6h-6zM146 426h6v6h-6zM140 444h6v6h-6zM800 492h12v6h-12zM734 498h12v6h-12zM122 504h6v6h-6zM674 504h12v6h-12zM584 510h12v6h-12zM548 516h6v6h-6zM512 522h6v6h-6zM476 528h6v6h-6zM440 534h6v6h-6zM398 546h6v6h-6zM104 564h6v6h-6zM326 582h6v6h-6z"/><path fill="#57b14b" d="M200 306h6v6h-6zM194 324h6v6h-6zM188 342h6v6h-6zM164 408h6v6h-6zM158 426h6v6h-6zM830 474h6v6h-6zM752 480h12v6h-12zM680 486h12v6h-12zM578 492h6v6h-6zM548 498h6v6h-6zM518 504h6v6h-6zM128 510h6v6h-6zM488 510h6v6h-6zM458 516h6v6h-6zM356 546h6v6h-6zM326 564h6v6h-6zM302 582h6v6h-6zM296 588h6v6h-6z"/><path fill="#36ae69" d="M266 306h6v6h-6zM260 318h6v6h-6zM254 330h6v6h-6zM230 372h6v6h-6zM224 384h6v6h-6zM218 396h6v6h-6zM806 408h12v6h-12zM782 414h12v6h-12zM758 420h12v6h-12zM734 426h6v6h-6zM704 432h12v6h-12zM680 438h12v6h-12zM656 444h12v6h-12zM188 450h6v6h-6zM632 450h6v6h-6zM608 456h6v6h-6zM182 462h6v6h-6zM584 462h6v6h-6zM560 468h6v6h-6zM536 474h6v6h-6zM506 480h12v6h-12zM482 486h6v6h-6zM458 492h6v6h-6zM434 498h6v6h-6zM152 516h6v6h-6zM368 516h6v6h-6zM260 570h6v6h-6zM212 612h6v6h-6z"/><path fill="#cfa830" d="M152 312h6v6h-6zM806 516h6v6h-6zM608 534h6v6h-6zM512 546h6v6h-6zM470 552h6v6h-6z"/><path fill="#abb139" d="M170 312h6v6h-6zM164 336h6v6h-6zM152 378h6v6h-6zM134 444h6v6h-6zM830 498h6v6h-6zM770 504h6v6h-6zM116 510h6v6h-6zM710 510h6v6h-6zM650 516h12v6h-12zM572 522h6v6h-6zM530 528h6v6h-6zM494 534h6v6h-6zM452 540h6v6h-6zM380 558h6v6h-6zM362 564h6v6h-6zM338 582h6v6h-6z"/><path fill="#99b13c" d="M176 312h6v6h-6zM164 354h6v6h-6zM152 396h6v6h-6zM122 498h6v6h-6zM776 498h6v6h-6zM710 504h12v6h-12zM656 510h6v6h-6zM572 516h6v6h-6zM536 522h6v6h-6zM494 528h6v6h-6zM458 534h6v6h-6zM110 540h6v6h-6zM428 540h6v6h-6zM386 552h6v6h-6zM356 564h6v6h-6z"/><path fill="#51b14b" d="M200 312h6v6h-6zM194 330h6v6h-6zM170 396h6v6h-6zM146 462h6v6h-6zM812 474h12v6h-12zM140 480h6v6h-6zM728 480h12v6h-12zM656 486h12v6h-12zM512 504h6v6h-6zM482 510h6v6h-6zM452 516h6v6h-6zM428 522h6v6h-6zM368 540h6v6h-6zM116 546h6v6h-6zM314 570h6v6h-6z"/><path fill="#93b13c" d="M176 318h6v6h-6zM146 420h6v6h-6zM824 492h6v6h-6zM758 498h6v6h-6zM698 504h6v6h-6zM626 510h12v6h-12zM560 516h6v6h-6zM116 522h6v6h-6zM524 522h6v6h-6zM488 528h6v6h-6zM452 534h6v6h-6zM314 594h6v6h-6zM308 600h6v6h-6z"/><path fill="#4bb14e" d="M200 318h6v6h-6zM194 336h6v6h-6zM176 384h6v6h-6zM152 450h6v6h-6zM782 474h18v6h-18zM704 480h12v6h-12zM614 486h30v6h-30zM560 492h6v6h-6zM134 498h6v6h-6zM530 498h6v6h-6zM500 504h6v6h-6zM422 522h6v6h-6zM404 528h6v6h-6zM362 540h6v6h-6zM350 546h6v6h-6zM110 564h6v6h-6zM320 564h6v6h-6zM290 588h6v6h-6z"/><path fill="#ccab33" d="M152 324h6v6h-6zM140 378h6v6h-6zM122 456h6v6h-6zM776 516h6v6h-6zM716 522h6v6h-6zM578 534h6v6h-6zM536 540h6v6h-6zM494 546h6v6h-6zM452 552h6v6h-6zM404 564h6v6h-6zM92 588h6v6h-6zM350 588h6v6h-6z"/><path fill="#69b148" d="M188 324h6v6h-6zM182 342h6v6h-6zM176 360h6v6h-6zM170 378h6v6h-6zM164 396h6v6h-6zM158 414h6v6h-6zM152 432h6v6h-6zM824 480h6v6h-6zM746 486h6v6h-6zM680 492h6v6h-6zM578 498h6v6h-6zM548 504h6v6h-6zM452 522h6v6h-6zM344 558h6v6h-6zM326 570h6v6h-6zM290 600h6v6h-6z"/><path fill="#39b15d" d="M248 324h6v6h-6zM794 426h6v6h-6zM710 444h6v6h-6zM656 456h6v6h-6z"/><path fill="#aeb136" d="M164 330h6v6h-6zM140 420h6v6h-6zM122 486h6v6h-6zM782 504h6v6h-6zM722 510h6v6h-6zM578 522h6v6h-6zM500 534h6v6h-6zM428 546h6v6h-6zM98 576h6v6h-6zM332 588h6v6h-6z"/><path fill="#39ae5d" d="M242 336h6v6h-6zM236 348h6v6h-6zM230 360h6v6h-6zM224 372h6v6h-6zM218 384h6v6h-6zM212 396h6v6h-6zM812 420h12v6h-12zM782 426h12v6h-12zM758 432h12v6h-12zM728 438h12v6h-12zM704 444h6v6h-6zM674 450h12v6h-12zM650 456h6v6h-6zM626 462h6v6h-6zM596 468h12v6h-12zM572 474h12v6h-12zM542 480h12v6h-12zM518 486h6v6h-6zM488 492h12v6h-12zM158 498h6v6h-6zM464 498h6v6h-6zM434 504h6v6h-6zM152 510h6v6h-6zM392 516h6v6h-6zM146 522h6v6h-6zM356 522h6v6h-6zM302 546h6v6h-6zM272 564h6v6h-6zM236 594h6v6h-6z"/><path fill="#30ae75" d="M254 342h6v6h-6zM230 384h6v6h-6zM812 396h6v6h-6zM788 402h6v6h-6zM764 408h6v6h-6zM620 444h6v6h-6zM356 516h6v6h-6zM128 564h6v6h-6z"/><path fill="#27ab8d" d="M266 348h6v6h-6zM824 366h6v6h-6zM782 378h6v6h-6zM674 408h6v6h-6zM632 420h6v6h-6zM572 438h6v6h-6zM338 516h6v6h-6zM140 552h6v6h-6z"/><path fill="#d5a530" d="M140 354h6v6h-6zM572 540h6v6h-6z"/><path fill="#5db14b" d="M182 354h6v6h-6zM140 474h6v6h-6zM98 594h6v6h-6zM284 600h6v6h-6z"/><path fill="#39ae63" d="M236 354h6v6h-6zM686 444h6v6h-6zM182 456h6v6h-6zM584 468h6v6h-6zM350 522h6v6h-6zM320 534h6v6h-6zM290 552h6v6h-6z"/><path fill="#78b145" d="M170 366h6v6h-6zM800 486h6v6h-6zM728 492h6v6h-6zM296 600h6v6h-6z"/><path fill="#78b142" d="M164 384h6v6h-6zM158 402h6v6h-6zM152 420h6v6h-6zM806 486h6v6h-6zM734 492h6v6h-6zM668 498h6v6h-6zM578 504h6v6h-6zM542 510h6v6h-6zM476 522h6v6h-6zM380 546h6v6h-6zM104 570h6v6h-6zM290 606h6v6h-6z"/><path fill="#27ab8a" d="M740 390h6v6h-6zM512 456h6v6h-6zM188 474h6v6h-6z"/><path fill="#3cb15a" d="M200 414h6v6h-6zM194 426h6v6h-6zM806 426h6v6h-6zM782 432h6v6h-6zM188 438h6v6h-6zM752 438h6v6h-6zM722 444h6v6h-6zM668 456h6v6h-6zM638 462h6v6h-6zM614 468h6v6h-6zM590 474h6v6h-6zM560 480h6v6h-6zM530 486h6v6h-6zM476 498h6v6h-6zM446 504h6v6h-6zM332 528h6v6h-6zM314 540h6v6h-6z"/><path fill="#f3932a" d="M110 426h6v6h-6zM104 468h6v6h-6zM98 510h6v6h-6zM746 546h12v6h-12zM662 552h6v6h-6zM602 558h6v6h-6zM482 576h6v6h-6zM404 600h6v6h-6z"/><path fill="#72b145" d="M152 426h6v6h-6zM146 444h6v6h-6zM140 462h6v6h-6zM134 480h6v6h-6zM782 486h6v6h-6zM710 492h6v6h-6zM128 498h6v6h-6zM638 498h18v6h-18zM566 504h6v6h-6zM530 510h6v6h-6zM500 516h6v6h-6zM434 528h6v6h-6zM416 534h6v6h-6zM374 546h6v6h-6zM314 582h6v6h-6z"/><path fill="#84b13f" d="M140 450h6v6h-6zM710 498h6v6h-6zM650 504h6v6h-6zM566 510h6v6h-6zM302 600h6v6h-6z"/><path fill="#66b148" d="M146 450h6v6h-6zM140 468h6v6h-6zM812 480h12v6h-12zM134 486h6v6h-6zM734 486h12v6h-12zM668 492h12v6h-12zM572 498h6v6h-6zM128 504h6v6h-6zM542 504h6v6h-6zM512 510h6v6h-6zM482 516h6v6h-6zM122 522h6v6h-6zM386 540h6v6h-6zM302 588h6v6h-6zM296 594h6v6h-6z"/><path fill="#3fb14e" d="M716 474h6v6h-6zM374 534h6v6h-6z"/><path fill="#6cb145" d="M830 480h6v6h-6zM758 486h12v6h-12zM686 492h12v6h-12zM590 498h24v6h-24zM554 504h6v6h-6zM524 510h6v6h-6zM488 516h6v6h-6zM458 522h6v6h-6zM410 534h6v6h-6zM368 546h6v6h-6zM320 576h6v6h-6zM284 606h6v6h-6zM278 612h6v6h-6z"/><path fill="#9fb139" d="M800 498h6v6h-6zM596 516h6v6h-6z"/></g></g>
<rect x="74.6" y="288" width="2.2" height="313" fill="#fff" fill-opacity="0.45" clip-path="url(#fc)"/>
<g stroke="#000" stroke-opacity="0.22" stroke-width="1.7" fill="none"><line x1="74.0" y1="144.2" x2="74.0" y2="602.8"/><line x1="131.1" y1="144.2" x2="131.1" y2="602.8"/><line x1="188.2" y1="144.2" x2="188.2" y2="602.8"/><line x1="245.2" y1="144.2" x2="245.2" y2="602.8"/><line x1="302.3" y1="144.2" x2="302.3" y2="602.8"/><line x1="359.4" y1="144.2" x2="359.4" y2="602.8"/><line x1="416.5" y1="144.2" x2="416.5" y2="602.8"/><line x1="473.6" y1="144.2" x2="473.6" y2="602.8"/><line x1="530.6" y1="144.2" x2="530.6" y2="602.8"/><line x1="587.7" y1="144.2" x2="587.7" y2="602.8"/><line x1="644.8" y1="144.2" x2="644.8" y2="602.8"/><line x1="701.9" y1="144.2" x2="701.9" y2="602.8"/><line x1="759.0" y1="144.2" x2="759.0" y2="602.8"/><line x1="816.0" y1="144.2" x2="816.0" y2="602.8"/></g>
<g stroke="#000" stroke-opacity="0.19" stroke-width="2" fill="none"><line x1="73" y1="601.8" x2="817" y2="601.8"/><line x1="73" y1="544.7" x2="817" y2="544.7"/><line x1="73" y1="487.6" x2="817" y2="487.6"/><line x1="73" y1="430.5" x2="817" y2="430.5"/><line x1="73" y1="373.4" x2="817" y2="373.4"/><line x1="73" y1="316.3" x2="817" y2="316.3"/><line x1="73" y1="259.2" x2="817" y2="259.2"/><line x1="73" y1="202.1" x2="817" y2="202.1"/><line x1="73" y1="145.0" x2="817" y2="145.0"/></g>
<g clip-path="url(#fc)"><g stroke="#000" stroke-opacity="0.06" stroke-width="1.2" stroke-dasharray="7 5.5" fill="none"><line x1="102.5" y1="145" x2="102.5" y2="602"/><line x1="159.6" y1="145" x2="159.6" y2="602"/><line x1="216.7" y1="145" x2="216.7" y2="602"/><line x1="273.8" y1="145" x2="273.8" y2="602"/><line x1="330.9" y1="145" x2="330.9" y2="602"/><line x1="387.9" y1="145" x2="387.9" y2="602"/><line x1="445.0" y1="145" x2="445.0" y2="602"/><line x1="502.1" y1="145" x2="502.1" y2="602"/><line x1="559.2" y1="145" x2="559.2" y2="602"/><line x1="616.3" y1="145" x2="616.3" y2="602"/><line x1="673.3" y1="145" x2="673.3" y2="602"/><line x1="730.4" y1="145" x2="730.4" y2="602"/><line x1="787.5" y1="145" x2="787.5" y2="602"/></g>
<g stroke="#000" stroke-opacity="0.05" stroke-width="1.5" stroke-dasharray="8 4.5" fill="none"><line x1="74" y1="573.2" x2="816" y2="573.2"/><line x1="74" y1="516.1" x2="816" y2="516.1"/><line x1="74" y1="459.0" x2="816" y2="459.0"/><line x1="74" y1="401.9" x2="816" y2="401.9"/><line x1="74" y1="344.8" x2="816" y2="344.8"/><line x1="74" y1="287.7" x2="816" y2="287.7"/><line x1="74" y1="230.6" x2="816" y2="230.6"/><line x1="74" y1="173.5" x2="816" y2="173.5"/></g></g>
<g stroke="#2e3192" fill="none" stroke-linejoin="round"><path d="M74.0 288.4L77.0 288.6L80.0 288.7L83.0 289.0L86.0 289.2" stroke-width="3.6"/><path d="M103.0 290.9L106.0 291.2L109.0 291.6L112.0 292.0L115.0 292.4L118.0 292.8L121.0 293.2L124.0 293.5L124.5 293.6" stroke-width="4"/><path d="M127.0 293.9L130.0 294.3L133.0 294.7L136.0 295.1L139.0 295.5L142.0 295.9L145.0 296.3L148.0 296.7L151.0 297.1L154.0 297.5L157.0 297.9L160.0 298.3L163.0 298.7L166.0 299.1L169.0 299.5L172.0 299.9L175.0 300.3L178.0 300.7L181.0 301.2L184.0 301.6L187.0 302.1L190.0 302.6L193.0 303.1L196.0 303.6L199.0 304.1L202.0 304.7L205.0 305.3L208.0 305.9L211.0 306.6L214.0 307.2L217.0 307.9L220.0 308.7L223.0 309.4L226.0 310.2L229.0 311.1L232.0 311.9L235.0 312.8L238.0 313.7L241.0 314.6L244.0 315.6L247.0 316.5L250.0 317.5L253.0 318.5L256.0 319.5L259.0 320.6L262.0 321.6L265.0 322.7L268.0 323.7L271.0 324.8L274.0 325.9L277.0 327.1L280.0 328.2L283.0 329.3L286.0 330.4L289.0 331.5L292.0 332.6L295.0 333.7L298.0 334.8L301.0 335.9L304.0 337.0L307.0 338.2L310.0 339.3L313.0 340.4L316.0 341.5L319.0 342.6L322.0 343.7L325.0 344.8L328.0 345.9L331.0 347.1L334.0 348.2L337.0 349.4L340.0 350.6L343.0 351.7L346.0 352.9L349.0 354.1L352.0 355.3L355.0 356.5L358.0 357.7L361.0 358.9L364.0 360.1L367.0 361.4L370.0 362.6L373.0 363.8L376.0 365.1L379.0 366.3L382.0 367.6L385.0 368.8L388.0 370.1L391.0 371.4L394.0 372.7L397.0 373.9L400.0 375.2L403.0 376.5L406.0 377.8L409.0 379.1L412.0 380.4L415.0 381.7L418.0 383.1L421.0 384.4L424.0 385.7L427.0 387.0L430.0 388.4L433.0 389.7L436.0 391.0L439.0 392.4L442.0 393.7L445.0 395.1L448.0 396.4L451.0 397.8L454.0 399.1L457.0 400.5L460.0 401.9L463.0 403.2L466.0 404.6L469.0 406.0L472.0 407.3L475.0 408.7L478.0 410.1L481.0 411.5L484.0 412.8L487.0 414.2L490.0 415.6L493.0 417.0L496.0 418.4L499.0 419.8L502.0 421.1L505.0 422.5L508.0 423.9L511.0 425.3L514.0 426.7L517.0 428.1L520.0 429.5L523.0 430.9L526.0 432.3L529.0 433.7L532.0 435.1L535.0 436.5L538.0 437.9L541.0 439.3L544.0 440.7L547.0 442.2L550.0 443.6L553.0 445.0L556.0 446.4L559.0 447.8L562.0 449.3L565.0 450.7L568.0 452.2L571.0 453.6L574.0 455.1L577.0 456.5L580.0 458.0L583.0 459.4L586.0 460.9L589.0 462.4L592.0 463.8L595.0 465.3L598.0 466.8L601.0 468.3L604.0 469.8L607.0 471.3L610.0 472.8L613.0 474.3L616.0 475.9L619.0 477.4L622.0 478.9L625.0 480.5L628.0 482.0L631.0 483.6L634.0 485.1L637.0 486.7L640.0 488.3L643.0 489.9L646.0 491.5L649.0 493.1L652.0 494.7L655.0 496.3L658.0 497.9L661.0 499.6L664.0 501.2L667.0 502.9L670.0 504.5L673.0 506.2L676.0 507.9L679.0 509.6L682.0 511.3L685.0 513.0L688.0 514.7L691.0 516.4L694.0 518.1L697.0 519.9L700.0 521.7L703.0 523.4L706.0 525.2L709.0 527.0L712.0 528.8L715.0 530.6L718.0 532.4L721.0 534.3L724.0 536.1L727.0 538.0L730.0 539.8L733.0 541.7L736.0 543.6L739.0 545.5L742.0 547.4L745.0 549.4L748.0 551.3L751.0 553.2L754.0 555.2L757.0 557.2L760.0 559.2L763.0 561.2L766.0 563.2L769.0 565.3L772.0 567.3L775.0 569.4L778.0 571.4L781.0 573.5L782.0 574.2" stroke-width="7.2"/><path d="M783.0 574.9L786.0 577.0L789.0 579.2L792.0 581.3L792.7 581.8" stroke-width="5"/><path d="M806.0 591.5L809.0 593.8L812.0 596.0L815.0 598.3L815.5 598.6" stroke-width="5"/><path d="M74.0 313.9L77.0 314.9L80.0 315.8L83.0 316.8L86.0 317.7L89.0 318.7L92.0 319.6L94.0 320.2" stroke-width="4"/><path d="M109.7 325.0L112.7 325.9L115.7 326.8L118.7 327.7L121.7 328.7L124.7 329.6L127.7 330.5L129.5 331.0" stroke-width="4.2"/><path d="M129.0 330.9L132.0 331.8L135.0 332.7L138.0 333.6L141.0 334.5L144.0 335.5L147.0 336.4L150.0 337.3L153.0 338.3L156.0 339.2L159.0 340.2L162.0 341.2L165.0 342.2L168.0 343.1L171.0 344.1L174.0 345.1L177.0 346.2L180.0 347.2L183.0 348.2L186.0 349.3L189.0 350.4L192.0 351.4L195.0 352.5L198.0 353.7L201.0 354.8L204.0 355.9L207.0 357.1L210.0 358.3L213.0 359.5L216.0 360.7L219.0 361.9L222.0 363.2L225.0 364.5L228.0 365.8L231.0 367.1L234.0 368.4L237.0 369.8L240.0 371.2L243.0 372.6L246.0 374.0L249.0 375.5L252.0 377.0L255.0 378.5L258.0 380.0L261.0 381.6L264.0 383.1L267.0 384.7L270.0 386.3L273.0 388.0L276.0 389.7L279.0 391.3L282.0 393.1L285.0 394.8L288.0 396.5L291.0 398.2L294.0 400.0L297.0 401.8L300.0 403.5L303.0 405.3L306.0 407.1L309.0 408.9L312.0 410.6L315.0 412.4L318.0 414.2L321.0 416.0L324.0 417.7L327.0 419.5L330.0 421.3L333.0 423.0L336.0 424.8L339.0 426.6L342.0 428.4L345.0 430.1L348.0 431.9L351.0 433.7L354.0 435.5L357.0 437.2L360.0 439.0L363.0 440.7L366.0 442.5L369.0 444.2L372.0 446.0L375.0 447.7L378.0 449.4L381.0 451.1L384.0 452.8L387.0 454.5L390.0 456.2L393.0 457.9L396.0 459.5L399.0 461.2L402.0 462.8L405.0 464.5L408.0 466.1L411.0 467.7L414.0 469.3L417.0 470.9L420.0 472.6L423.0 474.2L426.0 475.8L429.0 477.4L432.0 478.9L435.0 480.5L438.0 482.1L441.0 483.7L444.0 485.3L447.0 486.9L450.0 488.5L453.0 490.1L456.0 491.7L459.0 493.3L462.0 494.9L465.0 496.5L468.0 498.2L471.0 499.8L474.0 501.4L477.0 503.1L480.0 504.7L483.0 506.4L486.0 508.1L489.0 509.7L492.0 511.4L495.0 513.1L498.0 514.9L501.0 516.6L504.0 518.3L507.0 520.1L510.0 521.9L513.0 523.7L516.0 525.5L519.0 527.3L522.0 529.1L525.0 531.0L528.0 532.8L531.0 534.7L534.0 536.5L537.0 538.4L540.0 540.3L543.0 542.1L546.0 544.0L549.0 545.9L552.0 547.8L555.0 549.7L558.0 551.6L561.0 553.4L564.0 555.3L567.0 557.2L570.0 559.1L573.0 561.0L576.0 562.8L579.0 564.7L582.0 566.5L585.0 568.4L588.0 570.2L591.0 572.0L594.0 573.8L597.0 575.6L599.0 576.8" stroke-width="7.2"/><path d="M600.5 577.7L603.5 579.5L606.5 581.2L609.5 583.0L612.5 584.7L615.5 586.4L618.4 588.0" stroke-width="4.5"/><path d="M633.5 596.2L636.5 597.7L639.5 599.2L642.5 600.7L645.0 602.0" stroke-width="4.5"/><path d="M74.0 404.4L77.0 404.2L80.0 404.0L83.0 403.9L86.0 403.7L89.0 403.6L92.0 403.6L94.4 403.5" stroke-width="4"/><path d="M110.6 403.5L113.6 403.6L116.6 403.7L119.6 403.8L122.6 403.9L125.6 404.1L128.0 404.2" stroke-width="4.2"/><path d="M129.0 404.3L132.0 404.5L135.0 404.7L138.0 404.9L141.0 405.2L144.0 405.5L147.0 405.8L150.0 406.2L153.0 406.5L156.0 406.9L159.0 407.3L162.0 407.7L165.0 408.2L168.0 408.6L171.0 409.1L174.0 409.6L177.0 410.2L180.0 410.7L183.0 411.3L186.0 411.9L189.0 412.5L192.0 413.2L195.0 413.8L198.0 414.5L201.0 415.2L204.0 416.0L207.0 416.7L210.0 417.5L213.0 418.3L216.0 419.2L219.0 420.0L222.0 420.9L225.0 421.8L228.0 422.7L231.0 423.6L234.0 424.6L237.0 425.6L240.0 426.6L243.0 427.7L246.0 428.7L249.0 429.8L252.0 430.9L255.0 432.0L258.0 433.2L261.0 434.4L264.0 435.6L267.0 436.8L270.0 438.1L273.0 439.4L276.0 440.7L279.0 442.0L282.0 443.4L285.0 444.8L288.0 446.2L291.0 447.6L294.0 449.1L297.0 450.6L300.0 452.1L303.0 453.7L306.0 455.2L309.0 456.8L312.0 458.4L315.0 460.0L318.0 461.7L321.0 463.3L324.0 465.0L327.0 466.7L330.0 468.5L333.0 470.2L336.0 471.9L339.0 473.7L342.0 475.5L345.0 477.3L348.0 479.2L351.0 481.0L354.0 482.9L357.0 484.8L360.0 486.7L363.0 488.6L366.0 490.6L369.0 492.6L372.0 494.6L375.0 496.6L378.0 498.6L381.0 500.7L384.0 502.8L387.0 504.9L390.0 507.0L393.0 509.1L396.0 511.3L399.0 513.4L402.0 515.6L405.0 517.9L408.0 520.1L411.0 522.3L414.0 524.6L417.0 526.9L420.0 529.2L423.0 531.5L426.0 533.9L429.0 536.3L432.0 538.6L435.0 541.0L438.0 543.5L441.0 545.9L444.0 548.4L447.0 550.8L450.0 553.3L453.0 555.9L456.0 558.4L459.0 560.9L462.0 563.5L465.0 566.1L468.0 568.7L471.0 571.3L474.0 573.9" stroke-width="7.2"/><path d="M474.0 573.9L477.0 576.6L480.0 579.3L483.0 582.0L485.7 584.4" stroke-width="4.5"/><path d="M499.7 597.2L502.7 600.0L505.7 602.9L506.6 603.7" stroke-width="4.5"/><path d="M74.0 431.0L77.0 431.7L80.0 432.3L83.0 433.0L86.0 433.6" stroke-width="4"/><path d="M102.5 436.8L105.5 437.3L108.5 437.8L111.5 438.3L114.5 438.9L117.5 439.4L120.5 439.9L123.4 440.3" stroke-width="4.2"/><path d="M128.0 441.1L131.0 441.6L134.0 442.1L137.0 442.5L140.0 443.0L143.0 443.5L146.0 444.0L149.0 444.5L152.0 445.0L155.0 445.5L158.0 446.1L161.0 446.6L164.0 447.1L167.0 447.7L170.0 448.2L173.0 448.8L176.0 449.4L179.0 450.0L182.0 450.6L185.0 451.3L188.0 451.9L191.0 452.6L194.0 453.3L197.0 454.0L200.0 454.7L203.0 455.5L206.0 456.2L209.0 457.0L212.0 457.8L215.0 458.7L218.0 459.5L221.0 460.4L224.0 461.3L227.0 462.2L230.0 463.2L233.0 464.1L236.0 465.1L239.0 466.1L242.0 467.1L245.0 468.2L248.0 469.3L251.0 470.4L254.0 471.5L257.0 472.6L260.0 473.8L263.0 475.0L266.0 476.2L269.0 477.5L272.0 478.7L275.0 480.0L278.0 481.2L281.0 482.5L284.0 483.7L287.0 485.0L290.0 486.3L293.0 487.5L296.0 488.8L299.0 490.0L302.0 491.3L305.0 492.5L308.0 493.8L311.0 495.2L314.0 496.5L317.0 497.9L320.0 499.4L323.0 500.9L326.0 502.4L329.0 504.0L332.0 505.6L335.0 507.2L338.0 508.8L341.0 510.5L344.0 512.2L347.0 513.9L350.0 515.6L353.0 517.3L356.0 519.0L359.0 520.8L362.0 522.5L365.0 524.3L368.0 526.1L371.0 527.9L374.0 529.7L377.0 531.4L380.0 533.2L383.0 535.0L386.0 536.8L389.0 538.6L392.0 540.4L395.0 542.2L398.0 544.0L401.0 545.8L404.0 547.6L407.0 549.4L410.0 551.1L413.0 552.9L416.0 554.6L419.0 556.4L422.0 558.1L425.0 559.8L428.0 561.5L431.0 563.2L434.0 564.8L437.0 566.5L440.0 568.1L443.0 569.8L446.0 571.4L449.0 573.1L452.0 574.7L455.0 576.3L458.0 577.9L461.0 579.5L461.3 579.7" stroke-width="7.2"/><path d="M461.3 579.7L464.3 581.3L467.3 582.9L470.3 584.5L473.3 586.1L476.0 587.5" stroke-width="4.5"/><path d="M491.3 595.6L494.3 597.2L497.3 598.8L500.3 600.4" stroke-width="4.5"/></g>
<g stroke="#1c1c1c" stroke-width="1.7"><line x1="694" y1="203.1" x2="325.0" y2="500.3"/><line x1="694" y1="260.2" x2="390.0" y2="506.7"/><line x1="694" y1="317.4" x2="470.0" y2="497.9"/><line x1="694" y1="374.6" x2="588.4" y2="459.6"/></g>
<g fill="#fff" stroke="#1a1a1a" stroke-width="1.7"><circle cx="325.0" cy="500.3" r="5.2"/><circle cx="390.0" cy="506.7" r="5.2"/><circle cx="470.0" cy="497.9" r="5.2"/><circle cx="588.4" cy="459.6" r="5.2"/></g>
<rect x="694" y="163.1" width="122" height="40.1" fill="#1c97d5"/><line x1="694" y1="202.3" x2="733.5" y2="202.3" stroke="#0d3550" stroke-opacity="0.3" stroke-width="2"/><text x="755.40" y="191.8" text-anchor="middle" font-size="22.4" fill="#fff" stroke="#fff" stroke-width="0.7" textLength="60.6" lengthAdjust="spacing">150/6</text><rect x="694" y="220.2" width="122" height="40.1" fill="#1c97d5"/><line x1="694" y1="259.4" x2="733.5" y2="259.4" stroke="#0d3550" stroke-opacity="0.3" stroke-width="2"/><text x="755.75" y="248.9" text-anchor="middle" font-size="22.4" fill="#fff" stroke="#fff" stroke-width="0.7" textLength="80.9" lengthAdjust="spacing">150/7 H</text><rect x="694" y="277.4" width="122" height="40.1" fill="#1c97d5"/><line x1="694" y1="316.6" x2="733.5" y2="316.6" stroke="#0d3550" stroke-opacity="0.3" stroke-width="2"/><text x="754.35" y="306.1" text-anchor="middle" font-size="22.4" fill="#fff" stroke="#fff" stroke-width="0.7" textLength="76.7" lengthAdjust="spacing">200/10</text><rect x="694" y="334.6" width="122" height="40.1" fill="#1c97d5"/><line x1="694" y1="373.8" x2="733.5" y2="373.8" stroke="#0d3550" stroke-opacity="0.3" stroke-width="2"/><text x="754.70" y="363.3" text-anchor="middle" font-size="22.4" fill="#fff" stroke="#fff" stroke-width="0.7" textLength="96.8" lengthAdjust="spacing">255/11 H</text>
<text x="107" y="32.4" font-size="25" fill="#6f6f6f" textLength="673" lengthAdjust="spacing">График расходно-напорных характеристик насосов</text>
<text x="73" y="88.2" font-size="14.5" fill="#858585" textLength="745" lengthAdjust="spacing">Цифры в обозначении насоса показывают максимальные расходно-напорные характеристики</text>
<text x="73" y="106.8" font-size="14.5" fill="#858585" textLength="475" lengthAdjust="spacing">при свободном изливе, с максимальным диаметром шланга.</text>
<g font-size="19.5" fill="#3a3a3a"><text x="41.4" y="153.1" text-anchor="end">16</text><text x="41.4" y="210.3" text-anchor="end">14</text><text x="41.4" y="267.6" text-anchor="end">12</text><text x="41.4" y="326.1" text-anchor="end">10</text><text x="41.4" y="384.7" text-anchor="end">8</text><text x="41.4" y="442.4" text-anchor="end">6</text><text x="41.4" y="500.2" text-anchor="end">4</text><text x="41.4" y="558.1" text-anchor="end">2</text><text x="41.4" y="635.6" text-anchor="end">0</text><text x="129.4" y="642.2" text-anchor="middle">20</text><text x="185.7" y="642.2" text-anchor="middle">40</text><text x="242.2" y="642.2" text-anchor="middle">60</text><text x="300.0" y="642.2" text-anchor="middle">80</text><text x="358.3" y="642.2" text-anchor="middle">100</text><text x="415.7" y="642.2" text-anchor="middle">120</text><text x="472.2" y="642.2" text-anchor="middle">140</text><text x="528.9" y="642.2" text-anchor="middle">160</text><text x="586.7" y="642.2" text-anchor="middle">180</text><text x="642.9" y="642.2" text-anchor="middle">200</text><text x="699.4" y="642.2" text-anchor="middle">220</text><text x="759.7" y="642.2" text-anchor="middle">240</text><text x="819.7" y="642.2" text-anchor="middle">260</text></g>
<text transform="translate(67.2 335.3) rotate(-90)" font-size="16.5" fill="#333" textLength="79" lengthAdjust="spacingAndGlyphs">Напор, м.</text>
<text x="318" y="618.8" font-size="17" fill="#333" textLength="127" lengthAdjust="spacingAndGlyphs">Расход, л./мин.</text>
<defs><linearGradient id="lg" x1="0" x2="1" y1="0" y2="0">
<stop offset="0" stop-color="#f39230"/><stop offset="0.24" stop-color="#e89a30"/><stop offset="0.36" stop-color="#b3aa3c"/><stop offset="0.5" stop-color="#3db54a"/><stop offset="0.75" stop-color="#1ea8a0"/><stop offset="1" stop-color="#1c9ad6"/></linearGradient></defs>
<rect x="72.3" y="681.5" width="741.5" height="22" fill="url(#lg)"/>
<circle cx="91.8" cy="703" r="10.6" fill="#f6932b" stroke="#fde7c4" stroke-width="3.2"/>
<circle cx="792.4" cy="703.3" r="10.6" fill="#1e9dd8" stroke="#c9ecfa" stroke-width="3.2"/>
<g font-size="13" fill="#333">
<text x="72.7" y="736" textLength="89.8" lengthAdjust="spacingAndGlyphs">Минимальный</text>
<text x="72.7" y="755.6" textLength="79.2" lengthAdjust="spacingAndGlyphs">КПД насоса</text>
<text x="716.3" y="736" textLength="96.7" lengthAdjust="spacingAndGlyphs">Максимальный</text>
<text x="734" y="755.6" textLength="79" lengthAdjust="spacingAndGlyphs">КПД насоса</text>
</g>
</svg>
</body></html>
